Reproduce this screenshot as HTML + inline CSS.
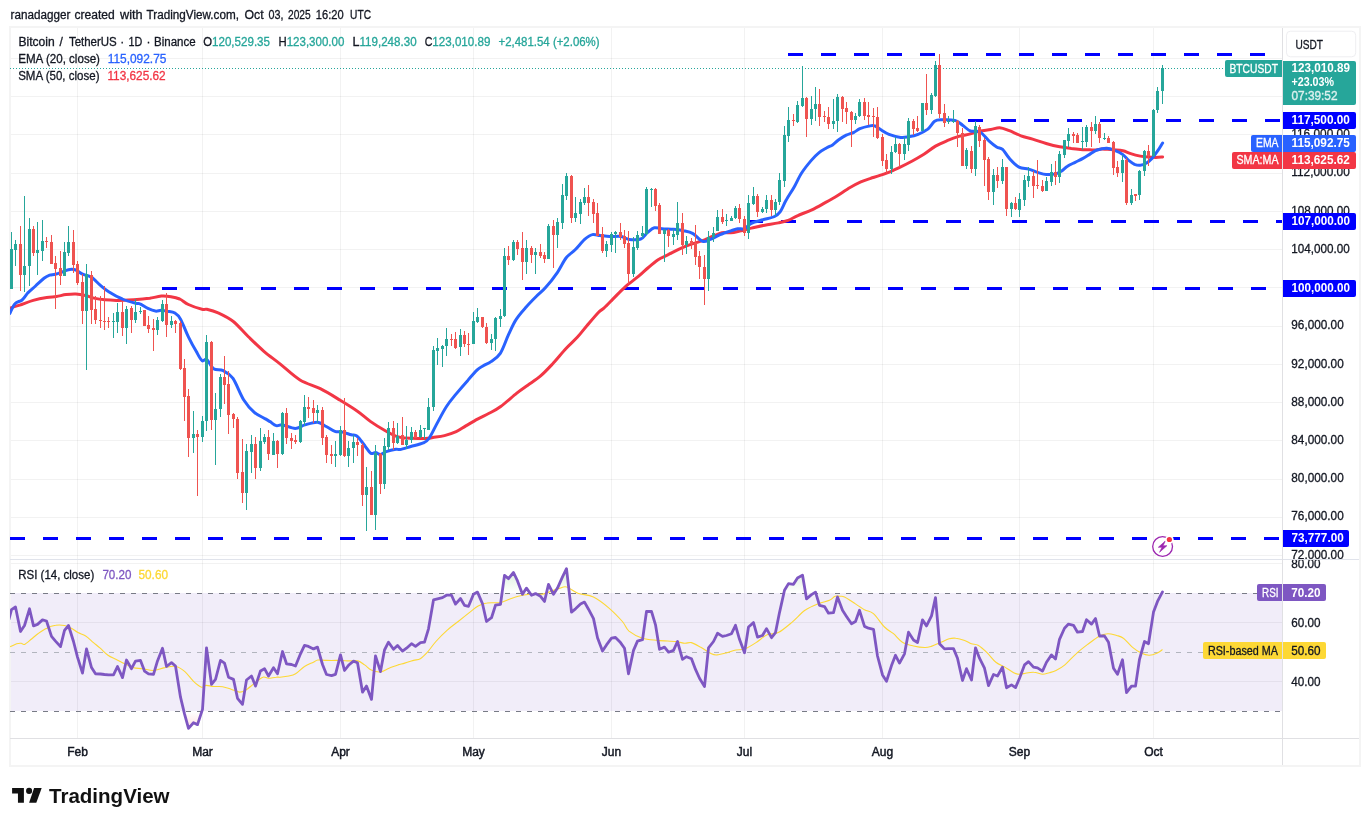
<!DOCTYPE html><html><head><meta charset="utf-8"><title>BTCUSDT chart</title>
<style>html,body{margin:0;padding:0;background:#fff}body{width:1370px;height:826px;overflow:hidden;position:relative}svg{position:absolute;left:0;top:0;display:block}text{font-family:"Liberation Sans",sans-serif;font-size:12px}</style></head><body>
<svg width="1370" height="826" viewBox="0 0 1370 826">
<defs><clipPath id="cm"><rect x="10" y="28" width="1272" height="531"/></clipPath><clipPath id="cr"><rect x="10" y="560" width="1272" height="178"/></clipPath>
<clipPath id="above70"><rect x="10" y="560" width="1272" height="33"/></clipPath><clipPath id="below30"><rect x="10" y="712" width="1272" height="26"/></clipPath>
<linearGradient id="gg" x1="0" y1="562" x2="0" y2="593" gradientUnits="userSpaceOnUse"><stop offset="0" stop-color="#4caf50" stop-opacity="0.28"/><stop offset="1" stop-color="#4caf50" stop-opacity="0"/></linearGradient>
<clipPath id="ax1"><rect x="1283" y="28" width="77" height="531"/></clipPath><clipPath id="ax2"><rect x="1283" y="560" width="77" height="178"/></clipPath></defs>
<linearGradient id="rg" x1="0" y1="712" x2="0" y2="738" gradientUnits="userSpaceOnUse"><stop offset="0" stop-color="#ff5252" stop-opacity="0"/><stop offset="1" stop-color="#ff5252" stop-opacity="0.28"/></linearGradient>
<g shape-rendering="crispEdges">
<rect x="10" y="593" width="1272" height="118" fill="#f1edf9"/>
<rect x="10" y="555" width="1272" height="1" fill="#000" fill-opacity="0.05"/>
<rect x="10" y="517" width="1272" height="1" fill="#000" fill-opacity="0.05"/>
<rect x="10" y="479" width="1272" height="1" fill="#000" fill-opacity="0.05"/>
<rect x="10" y="440" width="1272" height="1" fill="#000" fill-opacity="0.05"/>
<rect x="10" y="402" width="1272" height="1" fill="#000" fill-opacity="0.05"/>
<rect x="10" y="364" width="1272" height="1" fill="#000" fill-opacity="0.05"/>
<rect x="10" y="326" width="1272" height="1" fill="#000" fill-opacity="0.05"/>
<rect x="10" y="287" width="1272" height="1" fill="#000" fill-opacity="0.05"/>
<rect x="10" y="249" width="1272" height="1" fill="#000" fill-opacity="0.05"/>
<rect x="10" y="211" width="1272" height="1" fill="#000" fill-opacity="0.05"/>
<rect x="10" y="173" width="1272" height="1" fill="#000" fill-opacity="0.05"/>
<rect x="10" y="134" width="1272" height="1" fill="#000" fill-opacity="0.05"/>
<rect x="10" y="96" width="1272" height="1" fill="#000" fill-opacity="0.05"/>
<rect x="10" y="58" width="1272" height="1" fill="#000" fill-opacity="0.05"/>
<rect x="10" y="563" width="1272" height="1" fill="#000" fill-opacity="0.05"/>
<rect x="10" y="622" width="1272" height="1" fill="#000" fill-opacity="0.05"/>
<rect x="10" y="681" width="1272" height="1" fill="#000" fill-opacity="0.05"/>
<rect x="77" y="28" width="1" height="710" fill="#000" fill-opacity="0.05"/>
<rect x="202" y="28" width="1" height="710" fill="#000" fill-opacity="0.05"/>
<rect x="340" y="28" width="1" height="710" fill="#000" fill-opacity="0.05"/>
<rect x="473" y="28" width="1" height="710" fill="#000" fill-opacity="0.05"/>
<rect x="611" y="28" width="1" height="710" fill="#000" fill-opacity="0.05"/>
<rect x="744" y="28" width="1" height="710" fill="#000" fill-opacity="0.05"/>
<rect x="882" y="28" width="1" height="710" fill="#000" fill-opacity="0.05"/>
<rect x="1019" y="28" width="1" height="710" fill="#000" fill-opacity="0.05"/>
<rect x="1153" y="28" width="1" height="710" fill="#000" fill-opacity="0.05"/>
<rect x="9" y="26" width="1352" height="2" fill="#f4f4f4"/>
<rect x="9" y="765" width="1352" height="2" fill="#f4f4f4"/>
<rect x="9" y="26" width="2" height="741" fill="#f4f4f4"/>
<rect x="1359" y="26" width="2" height="741" fill="#f4f4f4"/>
<rect x="10" y="559" width="1349" height="1" fill="#e0e3eb"/>
<rect x="10" y="738" width="1349" height="1" fill="#e0e0e3"/>
<rect x="1282" y="28" width="1" height="737" fill="#e0e0e3"/>
</g>
<g shape-rendering="crispEdges" fill="#26a69a">
<path d="M10 68h1v1h-1zM13 68h1v1h-1zM16 68h1v1h-1zM19 68h1v1h-1zM22 68h1v1h-1zM25 68h1v1h-1zM28 68h1v1h-1zM31 68h1v1h-1zM34 68h1v1h-1zM37 68h1v1h-1zM40 68h1v1h-1zM43 68h1v1h-1zM46 68h1v1h-1zM49 68h1v1h-1zM52 68h1v1h-1zM55 68h1v1h-1zM58 68h1v1h-1zM61 68h1v1h-1zM64 68h1v1h-1zM67 68h1v1h-1zM70 68h1v1h-1zM73 68h1v1h-1zM76 68h1v1h-1zM79 68h1v1h-1zM82 68h1v1h-1zM85 68h1v1h-1zM88 68h1v1h-1zM91 68h1v1h-1zM94 68h1v1h-1zM97 68h1v1h-1zM100 68h1v1h-1zM103 68h1v1h-1zM106 68h1v1h-1zM109 68h1v1h-1zM112 68h1v1h-1zM115 68h1v1h-1zM118 68h1v1h-1zM121 68h1v1h-1zM124 68h1v1h-1zM127 68h1v1h-1zM130 68h1v1h-1zM133 68h1v1h-1zM136 68h1v1h-1zM139 68h1v1h-1zM142 68h1v1h-1zM145 68h1v1h-1zM148 68h1v1h-1zM151 68h1v1h-1zM154 68h1v1h-1zM157 68h1v1h-1zM160 68h1v1h-1zM163 68h1v1h-1zM166 68h1v1h-1zM169 68h1v1h-1zM172 68h1v1h-1zM175 68h1v1h-1zM178 68h1v1h-1zM181 68h1v1h-1zM184 68h1v1h-1zM187 68h1v1h-1zM190 68h1v1h-1zM193 68h1v1h-1zM196 68h1v1h-1zM199 68h1v1h-1zM202 68h1v1h-1zM205 68h1v1h-1zM208 68h1v1h-1zM211 68h1v1h-1zM214 68h1v1h-1zM217 68h1v1h-1zM220 68h1v1h-1zM223 68h1v1h-1zM226 68h1v1h-1zM229 68h1v1h-1zM232 68h1v1h-1zM235 68h1v1h-1zM238 68h1v1h-1zM241 68h1v1h-1zM244 68h1v1h-1zM247 68h1v1h-1zM250 68h1v1h-1zM253 68h1v1h-1zM256 68h1v1h-1zM259 68h1v1h-1zM262 68h1v1h-1zM265 68h1v1h-1zM268 68h1v1h-1zM271 68h1v1h-1zM274 68h1v1h-1zM277 68h1v1h-1zM280 68h1v1h-1zM283 68h1v1h-1zM286 68h1v1h-1zM289 68h1v1h-1zM292 68h1v1h-1zM295 68h1v1h-1zM298 68h1v1h-1zM301 68h1v1h-1zM304 68h1v1h-1zM307 68h1v1h-1zM310 68h1v1h-1zM313 68h1v1h-1zM316 68h1v1h-1zM319 68h1v1h-1zM322 68h1v1h-1zM325 68h1v1h-1zM328 68h1v1h-1zM331 68h1v1h-1zM334 68h1v1h-1zM337 68h1v1h-1zM340 68h1v1h-1zM343 68h1v1h-1zM346 68h1v1h-1zM349 68h1v1h-1zM352 68h1v1h-1zM355 68h1v1h-1zM358 68h1v1h-1zM361 68h1v1h-1zM364 68h1v1h-1zM367 68h1v1h-1zM370 68h1v1h-1zM373 68h1v1h-1zM376 68h1v1h-1zM379 68h1v1h-1zM382 68h1v1h-1zM385 68h1v1h-1zM388 68h1v1h-1zM391 68h1v1h-1zM394 68h1v1h-1zM397 68h1v1h-1zM400 68h1v1h-1zM403 68h1v1h-1zM406 68h1v1h-1zM409 68h1v1h-1zM412 68h1v1h-1zM415 68h1v1h-1zM418 68h1v1h-1zM421 68h1v1h-1zM424 68h1v1h-1zM427 68h1v1h-1zM430 68h1v1h-1zM433 68h1v1h-1zM436 68h1v1h-1zM439 68h1v1h-1zM442 68h1v1h-1zM445 68h1v1h-1zM448 68h1v1h-1zM451 68h1v1h-1zM454 68h1v1h-1zM457 68h1v1h-1zM460 68h1v1h-1zM463 68h1v1h-1zM466 68h1v1h-1zM469 68h1v1h-1zM472 68h1v1h-1zM475 68h1v1h-1zM478 68h1v1h-1zM481 68h1v1h-1zM484 68h1v1h-1zM487 68h1v1h-1zM490 68h1v1h-1zM493 68h1v1h-1zM496 68h1v1h-1zM499 68h1v1h-1zM502 68h1v1h-1zM505 68h1v1h-1zM508 68h1v1h-1zM511 68h1v1h-1zM514 68h1v1h-1zM517 68h1v1h-1zM520 68h1v1h-1zM523 68h1v1h-1zM526 68h1v1h-1zM529 68h1v1h-1zM532 68h1v1h-1zM535 68h1v1h-1zM538 68h1v1h-1zM541 68h1v1h-1zM544 68h1v1h-1zM547 68h1v1h-1zM550 68h1v1h-1zM553 68h1v1h-1zM556 68h1v1h-1zM559 68h1v1h-1zM562 68h1v1h-1zM565 68h1v1h-1zM568 68h1v1h-1zM571 68h1v1h-1zM574 68h1v1h-1zM577 68h1v1h-1zM580 68h1v1h-1zM583 68h1v1h-1zM586 68h1v1h-1zM589 68h1v1h-1zM592 68h1v1h-1zM595 68h1v1h-1zM598 68h1v1h-1zM601 68h1v1h-1zM604 68h1v1h-1zM607 68h1v1h-1zM610 68h1v1h-1zM613 68h1v1h-1zM616 68h1v1h-1zM619 68h1v1h-1zM622 68h1v1h-1zM625 68h1v1h-1zM628 68h1v1h-1zM631 68h1v1h-1zM634 68h1v1h-1zM637 68h1v1h-1zM640 68h1v1h-1zM643 68h1v1h-1zM646 68h1v1h-1zM649 68h1v1h-1zM652 68h1v1h-1zM655 68h1v1h-1zM658 68h1v1h-1zM661 68h1v1h-1zM664 68h1v1h-1zM667 68h1v1h-1zM670 68h1v1h-1zM673 68h1v1h-1zM676 68h1v1h-1zM679 68h1v1h-1zM682 68h1v1h-1zM685 68h1v1h-1zM688 68h1v1h-1zM691 68h1v1h-1zM694 68h1v1h-1zM697 68h1v1h-1zM700 68h1v1h-1zM703 68h1v1h-1zM706 68h1v1h-1zM709 68h1v1h-1zM712 68h1v1h-1zM715 68h1v1h-1zM718 68h1v1h-1zM721 68h1v1h-1zM724 68h1v1h-1zM727 68h1v1h-1zM730 68h1v1h-1zM733 68h1v1h-1zM736 68h1v1h-1zM739 68h1v1h-1zM742 68h1v1h-1zM745 68h1v1h-1zM748 68h1v1h-1zM751 68h1v1h-1zM754 68h1v1h-1zM757 68h1v1h-1zM760 68h1v1h-1zM763 68h1v1h-1zM766 68h1v1h-1zM769 68h1v1h-1zM772 68h1v1h-1zM775 68h1v1h-1zM778 68h1v1h-1zM781 68h1v1h-1zM784 68h1v1h-1zM787 68h1v1h-1zM790 68h1v1h-1zM793 68h1v1h-1zM796 68h1v1h-1zM799 68h1v1h-1zM802 68h1v1h-1zM805 68h1v1h-1zM808 68h1v1h-1zM811 68h1v1h-1zM814 68h1v1h-1zM817 68h1v1h-1zM820 68h1v1h-1zM823 68h1v1h-1zM826 68h1v1h-1zM829 68h1v1h-1zM832 68h1v1h-1zM835 68h1v1h-1zM838 68h1v1h-1zM841 68h1v1h-1zM844 68h1v1h-1zM847 68h1v1h-1zM850 68h1v1h-1zM853 68h1v1h-1zM856 68h1v1h-1zM859 68h1v1h-1zM862 68h1v1h-1zM865 68h1v1h-1zM868 68h1v1h-1zM871 68h1v1h-1zM874 68h1v1h-1zM877 68h1v1h-1zM880 68h1v1h-1zM883 68h1v1h-1zM886 68h1v1h-1zM889 68h1v1h-1zM892 68h1v1h-1zM895 68h1v1h-1zM898 68h1v1h-1zM901 68h1v1h-1zM904 68h1v1h-1zM907 68h1v1h-1zM910 68h1v1h-1zM913 68h1v1h-1zM916 68h1v1h-1zM919 68h1v1h-1zM922 68h1v1h-1zM925 68h1v1h-1zM928 68h1v1h-1zM931 68h1v1h-1zM934 68h1v1h-1zM937 68h1v1h-1zM940 68h1v1h-1zM943 68h1v1h-1zM946 68h1v1h-1zM949 68h1v1h-1zM952 68h1v1h-1zM955 68h1v1h-1zM958 68h1v1h-1zM961 68h1v1h-1zM964 68h1v1h-1zM967 68h1v1h-1zM970 68h1v1h-1zM973 68h1v1h-1zM976 68h1v1h-1zM979 68h1v1h-1zM982 68h1v1h-1zM985 68h1v1h-1zM988 68h1v1h-1zM991 68h1v1h-1zM994 68h1v1h-1zM997 68h1v1h-1zM1000 68h1v1h-1zM1003 68h1v1h-1zM1006 68h1v1h-1zM1009 68h1v1h-1zM1012 68h1v1h-1zM1015 68h1v1h-1zM1018 68h1v1h-1zM1021 68h1v1h-1zM1024 68h1v1h-1zM1027 68h1v1h-1zM1030 68h1v1h-1zM1033 68h1v1h-1zM1036 68h1v1h-1zM1039 68h1v1h-1zM1042 68h1v1h-1zM1045 68h1v1h-1zM1048 68h1v1h-1zM1051 68h1v1h-1zM1054 68h1v1h-1zM1057 68h1v1h-1zM1060 68h1v1h-1zM1063 68h1v1h-1zM1066 68h1v1h-1zM1069 68h1v1h-1zM1072 68h1v1h-1zM1075 68h1v1h-1zM1078 68h1v1h-1zM1081 68h1v1h-1zM1084 68h1v1h-1zM1087 68h1v1h-1zM1090 68h1v1h-1zM1093 68h1v1h-1zM1096 68h1v1h-1zM1099 68h1v1h-1zM1102 68h1v1h-1zM1105 68h1v1h-1zM1108 68h1v1h-1zM1111 68h1v1h-1zM1114 68h1v1h-1zM1117 68h1v1h-1zM1120 68h1v1h-1zM1123 68h1v1h-1zM1126 68h1v1h-1zM1129 68h1v1h-1zM1132 68h1v1h-1zM1135 68h1v1h-1zM1138 68h1v1h-1zM1141 68h1v1h-1zM1144 68h1v1h-1zM1147 68h1v1h-1zM1150 68h1v1h-1zM1153 68h1v1h-1zM1156 68h1v1h-1zM1159 68h1v1h-1zM1162 68h1v1h-1zM1165 68h1v1h-1zM1168 68h1v1h-1zM1171 68h1v1h-1zM1174 68h1v1h-1zM1177 68h1v1h-1zM1180 68h1v1h-1zM1183 68h1v1h-1zM1186 68h1v1h-1zM1189 68h1v1h-1zM1192 68h1v1h-1zM1195 68h1v1h-1zM1198 68h1v1h-1zM1201 68h1v1h-1zM1204 68h1v1h-1zM1207 68h1v1h-1zM1210 68h1v1h-1zM1213 68h1v1h-1zM1216 68h1v1h-1zM1219 68h1v1h-1zM1222 68h1v1h-1z"/>
</g>
<g shape-rendering="crispEdges" fill="#0000ff">
<path d="M788 53h15v3h-15zM821 53h15v3h-15zM854 53h15v3h-15zM887 53h15v3h-15zM920 53h15v3h-15zM953 53h15v3h-15zM986 53h15v3h-15zM1019 53h15v3h-15zM1052 53h15v3h-15zM1085 53h15v3h-15zM1118 53h15v3h-15zM1151 53h15v3h-15zM1184 53h15v3h-15zM1217 53h15v3h-15zM1250 53h15v3h-15z"/>
<path d="M968 119h15v3h-15zM1001 119h15v3h-15zM1034 119h15v3h-15zM1067 119h15v3h-15zM1100 119h15v3h-15zM1133 119h15v3h-15zM1166 119h15v3h-15zM1199 119h15v3h-15zM1232 119h15v3h-15zM1265 119h15v3h-15z"/>
<path d="M748 220h15v3h-15zM781 220h15v3h-15zM814 220h15v3h-15zM847 220h15v3h-15zM880 220h15v3h-15zM913 220h15v3h-15zM946 220h15v3h-15zM979 220h15v3h-15zM1012 220h15v3h-15zM1045 220h15v3h-15zM1078 220h15v3h-15zM1111 220h15v3h-15zM1144 220h15v3h-15zM1177 220h15v3h-15zM1210 220h15v3h-15zM1243 220h15v3h-15zM1276 220h6v3h-6z"/>
<path d="M162 287h15v3h-15zM195 287h15v3h-15zM228 287h15v3h-15zM261 287h15v3h-15zM294 287h15v3h-15zM327 287h15v3h-15zM360 287h15v3h-15zM393 287h15v3h-15zM426 287h15v3h-15zM459 287h15v3h-15zM492 287h15v3h-15zM525 287h15v3h-15zM558 287h15v3h-15zM591 287h15v3h-15zM624 287h15v3h-15zM657 287h15v3h-15zM690 287h15v3h-15zM723 287h15v3h-15zM756 287h15v3h-15zM789 287h15v3h-15zM822 287h15v3h-15zM855 287h15v3h-15zM888 287h15v3h-15zM921 287h15v3h-15zM954 287h15v3h-15zM987 287h15v3h-15zM1020 287h15v3h-15zM1053 287h15v3h-15zM1086 287h15v3h-15zM1119 287h15v3h-15zM1152 287h15v3h-15zM1185 287h15v3h-15zM1218 287h15v3h-15zM1251 287h15v3h-15z"/>
<path d="M10 537h15v3h-15zM43 537h15v3h-15zM76 537h15v3h-15zM109 537h15v3h-15zM142 537h15v3h-15zM175 537h15v3h-15zM208 537h15v3h-15zM241 537h15v3h-15zM274 537h15v3h-15zM307 537h15v3h-15zM340 537h15v3h-15zM373 537h15v3h-15zM406 537h15v3h-15zM439 537h15v3h-15zM472 537h15v3h-15zM505 537h15v3h-15zM538 537h15v3h-15zM571 537h15v3h-15zM604 537h15v3h-15zM637 537h15v3h-15zM670 537h15v3h-15zM703 537h15v3h-15zM736 537h15v3h-15zM769 537h15v3h-15zM802 537h15v3h-15zM835 537h15v3h-15zM868 537h15v3h-15zM901 537h15v3h-15zM934 537h15v3h-15zM967 537h15v3h-15zM1000 537h15v3h-15zM1033 537h15v3h-15zM1066 537h15v3h-15zM1099 537h15v3h-15zM1132 537h15v3h-15zM1165 537h15v3h-15zM1198 537h15v3h-15zM1231 537h15v3h-15zM1264 537h15v3h-15z"/>
</g>
<g clip-path="url(#cm)" fill="none" stroke-linejoin="round" stroke-linecap="round">
<path d="M9.9 308.1 C11.6 307.6 15.7 306.5 19.6 305.2 C23.5 303.9 28.7 301.7 33.2 300.4 C37.7 299.1 42.9 298.1 46.7 297.5 C50.6 296.8 53.2 297.0 56.4 296.5 C59.6 296.0 62.9 295.0 66.1 294.6 C69.3 294.2 72.5 293.8 75.8 294.0 C79.0 294.2 82.2 294.8 85.5 295.5 C88.7 296.3 91.9 297.7 95.1 298.4 C98.4 299.2 101.3 299.5 104.8 299.8 C108.4 300.1 112.6 300.3 116.4 300.4 C120.3 300.4 124.2 300.2 128.1 300.0 C132.0 299.8 136.2 299.5 139.8 299.2 C143.5 298.9 146.2 298.8 149.8 298.3 C153.4 297.7 157.8 296.4 161.3 296.1 C164.8 295.9 167.9 296.2 171.0 296.7 C174.0 297.2 176.8 297.8 179.7 299.0 C182.6 300.3 184.7 302.8 188.4 304.5 C192.1 306.2 198.9 308.5 202.0 309.3 C205.0 310.1 204.2 308.8 206.8 309.3 C209.4 309.9 213.1 310.6 217.5 312.6 C221.8 314.6 227.8 317.3 233.0 321.3 C238.1 325.4 243.3 331.8 248.4 336.8 C253.6 341.8 258.7 346.8 263.9 351.3 C269.2 355.9 274.0 359.1 280.0 363.9 C286.0 368.7 293.3 375.9 300.0 380.0 C306.7 384.1 313.6 385.3 320.3 388.7 C327.1 392.1 334.2 396.6 340.3 400.3 C346.4 404.0 352.1 407.4 357.1 411.0 C362.2 414.5 365.9 418.2 370.7 421.6 C375.5 425.0 382.0 428.9 386.2 431.3 C390.4 433.7 392.8 435.0 395.9 436.2 C399.0 437.3 399.8 437.7 404.7 438.1 C409.6 438.5 420.5 438.6 425.2 438.5 C429.9 438.4 429.7 438.0 432.9 437.5 C436.1 437.0 440.7 436.5 444.5 435.6 C448.4 434.6 452.6 433.3 456.2 431.7 C459.7 430.1 462.3 428.0 465.8 425.9 C469.4 423.8 473.6 421.2 477.5 419.1 C481.3 417.0 485.2 415.4 489.1 413.3 C493.0 411.2 496.1 409.9 500.7 406.5 C505.3 403.1 512.3 396.7 516.8 393.1 C521.3 389.6 523.9 388.0 527.8 385.2 C531.7 382.4 536.3 379.7 540.3 376.2 C544.4 372.7 548.0 368.8 552.3 364.2 C556.5 359.7 561.6 353.3 565.8 348.7 C570.0 344.2 573.9 341.0 577.5 337.1 C581.0 333.3 583.6 329.6 587.1 325.5 C590.6 321.4 595.6 315.4 598.4 312.5 C601.2 309.6 601.6 310.3 603.9 308.1 C606.3 306.0 609.1 303.0 612.6 299.4 C616.2 295.9 620.8 290.7 625.2 286.8 C629.5 283.0 634.9 279.4 638.7 276.2 C642.6 273.0 645.2 270.2 648.4 267.5 C651.6 264.7 654.9 261.8 658.1 259.7 C661.3 257.6 663.9 256.8 667.8 254.9 C671.6 253.0 677.1 250.0 681.3 248.1 C685.5 246.2 689.1 245.0 693.0 243.7 C696.8 242.3 701.3 241.0 704.6 239.8 C707.8 238.6 709.4 237.7 712.3 236.5 C715.2 235.3 718.9 233.2 722.0 232.6 C725.1 232.0 727.9 233.1 730.8 232.8 C733.8 232.5 736.3 231.8 739.7 231.0 C743.1 230.3 747.1 229.1 751.3 228.1 C755.5 227.2 760.3 226.1 764.9 225.2 C769.4 224.4 774.5 223.7 778.4 222.9 C782.3 222.1 784.9 221.6 788.1 220.4 C791.3 219.2 793.9 217.3 797.8 215.6 C801.6 213.8 807.1 212.1 811.3 210.1 C815.5 208.2 818.8 206.3 823.0 203.9 C827.1 201.6 832.0 198.9 836.5 196.2 C841.0 193.4 846.0 189.9 850.1 187.5 C854.1 185.1 857.4 183.3 860.8 181.8 C864.3 180.3 866.8 179.7 870.8 178.3 C874.9 177.0 880.5 175.4 885.2 173.6 C889.8 171.9 894.2 169.9 898.7 167.8 C903.2 165.7 908.1 163.3 912.3 161.0 C916.5 158.8 920.0 156.7 923.9 154.3 C927.8 151.8 931.6 148.4 935.5 146.1 C939.4 143.9 943.3 142.3 947.1 140.7 C951.0 139.1 954.9 137.6 958.8 136.4 C962.6 135.3 966.8 134.8 970.4 133.9 C973.9 133.0 976.7 131.7 980.1 131.0 C983.5 130.3 987.6 130.1 990.8 129.5 C994.1 129.0 996.6 127.6 999.7 127.8 C1002.8 128.0 1005.8 129.4 1009.4 130.7 C1012.9 132.1 1017.1 134.4 1021.0 135.8 C1024.9 137.2 1028.4 137.8 1032.6 139.1 C1036.8 140.4 1041.6 142.2 1046.2 143.5 C1050.7 144.8 1055.5 146.0 1059.7 146.8 C1063.9 147.6 1067.5 147.9 1071.3 148.4 C1075.2 148.8 1079.8 149.5 1083.0 149.7 C1086.1 149.9 1088.1 149.7 1090.0 149.7 C1091.9 149.8 1092.6 150.2 1094.6 150.1 C1096.5 150.0 1099.7 149.3 1101.6 149.1 C1103.6 149.0 1104.3 149.2 1106.2 149.3 C1108.1 149.4 1110.4 149.5 1113.2 149.7 C1116.0 150.0 1120.0 150.1 1122.9 150.7 C1125.8 151.3 1127.8 152.7 1130.7 153.6 C1133.6 154.5 1137.4 155.5 1140.3 156.1 C1143.3 156.7 1145.5 156.9 1148.1 157.1 C1150.7 157.3 1153.4 157.5 1155.8 157.5 C1158.3 157.4 1161.5 157.0 1162.6 156.9" stroke="#f23645" stroke-width="3"/>
<path d="M9.9 313.4 C10.8 311.7 12.9 305.9 15.0 303.7 C17.0 301.4 19.9 301.8 22.1 300.0 C24.3 298.2 25.9 295.0 28.1 292.6 C30.4 290.3 32.9 288.4 35.5 286.0 C38.1 283.7 41.7 280.1 44.0 278.3 C46.4 276.5 47.7 275.9 49.6 275.2 C51.5 274.5 53.0 274.9 55.4 274.2 C57.9 273.6 61.7 272.1 64.2 271.3 C66.6 270.5 68.0 269.6 70.0 269.4 C71.9 269.2 73.7 269.2 75.8 270.0 C77.9 270.8 80.0 273.0 82.6 274.2 C85.1 275.4 88.2 275.2 91.3 277.1 C94.3 279.1 98.0 283.4 101.0 285.9 C103.9 288.3 105.1 289.5 108.7 291.7 C112.2 293.9 117.7 297.1 122.3 299.0 C126.8 301.0 132.8 302.5 135.8 303.3 C138.8 304.1 138.0 303.0 140.0 303.9 C142.0 304.7 145.3 307.2 147.9 308.4 C150.5 309.6 153.3 310.7 155.5 311.1 C157.7 311.4 159.4 310.2 161.3 310.3 C163.2 310.3 164.9 310.8 167.1 311.2 C169.4 311.7 172.6 311.6 174.9 313.0 C177.1 314.3 178.4 315.4 180.7 319.4 C182.9 323.4 185.8 331.5 188.4 336.8 C191.0 342.1 193.9 347.4 196.2 351.3 C198.4 355.3 200.2 359.3 202.0 360.6 C203.7 362.0 204.9 358.1 206.8 359.5 C208.7 360.8 210.8 366.9 213.6 368.8 C216.3 370.6 220.0 369.1 223.3 370.7 C226.5 372.3 229.6 373.6 233.0 378.4 C236.3 383.3 240.1 394.1 243.6 399.7 C247.2 405.4 250.7 409.2 254.3 412.3 C257.8 415.4 262.3 417.0 264.9 418.6 C267.5 420.1 268.1 420.5 270.0 421.6 C271.9 422.8 274.1 425.1 276.2 425.6 C278.3 426.2 279.4 424.5 282.6 424.9 C285.8 425.4 291.5 428.4 295.2 428.4 C298.9 428.4 301.1 426.0 304.9 424.9 C308.6 423.9 313.9 422.0 317.4 422.2 C321.0 422.5 323.3 425.0 326.2 426.5 C329.1 428.0 332.3 430.4 334.9 431.3 C337.5 432.2 338.9 431.3 341.6 431.9 C344.4 432.5 348.8 434.1 351.3 434.8 C353.9 435.5 354.9 434.3 357.1 436.2 C359.4 438.0 362.6 443.0 364.9 445.8 C367.1 448.7 368.9 452.1 370.7 453.2 C372.5 454.3 373.9 452.4 375.5 452.6 C377.2 452.8 378.6 454.7 380.4 454.6 C382.2 454.4 383.6 452.5 386.2 451.6 C388.8 450.8 393.6 449.7 395.9 449.3 C398.2 449.0 397.5 450.0 400.0 449.5 C402.5 449.0 406.9 447.6 410.8 446.5 C414.7 445.4 420.2 444.3 423.2 442.9 C426.3 441.6 426.8 441.6 429.0 438.5 C431.3 435.3 433.9 429.3 436.8 423.9 C439.7 418.6 443.2 411.5 446.5 406.5 C449.7 401.5 452.6 398.3 456.2 393.9 C459.7 389.6 464.2 384.4 467.8 380.4 C471.3 376.3 474.9 372.1 477.5 369.7 C480.0 367.3 481.0 367.2 483.3 365.8 C485.5 364.5 488.2 363.7 491.0 361.6 C493.9 359.5 497.4 357.7 500.3 353.3 C503.2 348.8 505.8 340.5 508.4 334.9 C511.1 329.2 513.2 324.0 516.2 319.4 C519.1 314.7 522.8 310.8 526.2 307.0 C529.5 303.2 532.9 299.8 536.2 296.5 C539.4 293.2 542.3 291.4 545.8 287.3 C549.4 283.3 554.1 277.2 557.5 272.3 C560.8 267.4 563.3 261.5 566.2 257.8 C569.1 254.1 571.8 253.1 574.9 250.0 C578.0 247.0 581.7 242.0 584.6 239.4 C587.5 236.8 589.7 235.2 592.3 234.6 C594.9 233.9 597.1 235.2 600.0 235.5 C602.9 235.8 606.2 236.3 609.7 236.5 C613.3 236.7 618.1 236.0 621.3 236.5 C624.5 237.0 625.8 239.0 629.0 239.4 C632.3 239.8 637.6 240.1 640.7 239.0 C643.7 237.9 645.2 234.5 647.4 232.6 C649.7 230.7 651.8 228.4 654.2 227.8 C656.6 227.1 658.7 228.5 662.0 228.7 C665.2 229.0 670.0 229.0 673.6 229.3 C677.1 229.6 680.0 230.0 683.3 230.7 C686.5 231.4 689.7 231.8 693.0 233.6 C696.2 235.4 699.7 240.4 702.6 241.3 C705.5 242.3 707.5 240.5 710.4 239.4 C713.3 238.3 716.7 236.0 720.1 234.6 C723.5 233.1 727.9 231.8 730.8 230.9 C733.8 229.9 735.5 229.1 737.7 228.7 C740.0 228.4 742.3 229.6 744.5 228.7 C746.8 227.8 748.2 224.8 751.3 223.3 C754.4 221.8 759.0 220.9 762.9 219.8 C766.8 218.7 771.6 217.9 774.5 216.5 C777.4 215.2 778.4 214.4 780.3 211.7 C782.3 208.9 783.9 204.1 786.2 200.1 C788.4 196.0 791.3 192.0 793.9 187.5 C796.5 183.0 798.7 177.5 801.6 173.0 C804.6 168.4 808.4 163.8 811.3 160.4 C814.2 157.0 816.5 154.7 819.1 152.6 C821.7 150.5 824.6 149.1 826.8 147.8 C829.1 146.5 830.7 146.2 832.6 144.9 C834.6 143.6 836.2 141.6 838.4 140.0 C840.7 138.4 843.6 136.5 846.2 135.2 C848.8 133.9 851.7 133.4 853.9 132.3 C856.2 131.2 857.4 129.8 859.9 128.7 C862.4 127.7 866.4 126.6 868.9 126.1 C871.3 125.6 872.5 125.1 874.5 125.8 C876.6 126.4 878.9 128.6 881.3 130.0 C883.7 131.5 885.8 133.1 889.0 134.3 C892.3 135.5 897.4 137.0 900.7 137.4 C903.9 137.8 905.5 137.3 908.4 136.8 C911.3 136.3 914.9 135.6 918.1 134.3 C921.3 133.0 925.0 131.2 927.8 129.1 C930.5 126.9 932.3 122.9 934.6 121.3 C936.8 119.8 937.9 119.9 941.3 119.8 C944.7 119.6 951.3 119.5 954.9 120.4 C958.4 121.3 960.1 123.4 962.6 125.2 C965.2 127.0 967.5 129.9 970.4 131.0 C973.3 132.1 977.0 130.3 980.1 132.0 C983.1 133.6 986.1 138.4 988.9 140.8 C991.7 143.3 994.4 145.5 996.6 146.9 C998.9 148.4 1000.5 147.4 1002.6 149.3 C1004.7 151.2 1006.6 155.5 1009.4 158.4 C1012.1 161.4 1015.8 165.4 1019.0 167.1 C1022.3 168.9 1025.5 168.2 1028.7 169.1 C1032.0 170.0 1035.5 171.7 1038.4 172.6 C1041.3 173.5 1043.3 174.3 1046.2 174.5 C1049.1 174.7 1053.3 174.5 1055.8 173.9 C1058.4 173.3 1059.7 172.3 1061.6 171.0 C1063.6 169.7 1065.2 167.6 1067.5 166.2 C1069.7 164.7 1072.6 163.6 1075.2 162.3 C1077.8 161.0 1080.4 159.8 1083.0 158.4 C1085.5 157.0 1088.0 155.3 1090.3 153.9 C1092.7 152.5 1094.4 150.9 1097.1 150.0 C1099.9 149.1 1103.8 148.2 1106.8 148.3 C1109.8 148.4 1112.5 149.6 1115.2 150.7 C1117.9 151.7 1120.7 153.0 1122.9 154.6 C1125.2 156.2 1126.8 158.8 1128.7 160.4 C1130.7 162.0 1132.6 163.4 1134.5 164.3 C1136.5 165.1 1138.4 165.4 1140.3 165.2 C1142.3 165.1 1144.2 164.4 1146.2 163.3 C1148.1 162.2 1150.0 160.5 1152.0 158.4 C1153.9 156.3 1156.0 153.3 1157.8 150.7 C1159.6 148.1 1161.8 144.2 1162.6 143.0" stroke="#2962ff" stroke-width="3"/>
</g>
<g shape-rendering="crispEdges" clip-path="url(#cm)">
<path fill="#26a69a" d="M11 232h1v57h-1zM10 249h3v40h-3zM15 240h1v26h-1zM14 244h3v6h-3zM24 196h1v96h-1zM23 266h3v9h-3zM29 218h1v68h-1zM28 229h3v37h-3zM37 222h1v53h-1zM36 250h3v3h-3zM42 220h1v41h-1zM41 241h3v10h-3zM64 242h1v34h-1zM63 252h3v24h-3zM68 226h1v30h-1zM67 242h3v11h-3zM86 264h1v106h-1zM85 274h3v37h-3zM113 313h1v25h-1zM112 321h3v1h-3zM117 303h1v30h-1zM116 312h3v10h-3zM126 306h1v38h-1zM125 309h3v19h-3zM135 299h1v24h-1zM134 312h3v8h-3zM140 307h1v7h-1zM139 311h3v1h-3zM157 317h1v18h-1zM156 320h3v10h-3zM162 300h1v22h-1zM161 304h3v17h-3zM171 316h1v12h-1zM170 321h3v4h-3zM193 411h1v42h-1zM192 434h3v4h-3zM202 416h1v26h-1zM201 421h3v16h-3zM206 335h1v96h-1zM205 342h3v79h-3zM215 393h1v72h-1zM214 409h3v11h-3zM220 374h1v43h-1zM219 377h3v32h-3zM246 444h1v66h-1zM245 451h3v42h-3zM251 435h1v38h-1zM250 444h3v8h-3zM260 428h1v43h-1zM259 441h3v27h-3zM264 434h1v10h-1zM263 437h3v5h-3zM273 433h1v22h-1zM272 441h3v14h-3zM282 412h1v43h-1zM281 413h3v41h-3zM300 420h1v23h-1zM299 421h3v21h-3zM304 395h1v31h-1zM303 407h3v15h-3zM317 405h1v18h-1zM316 410h3v3h-3zM335 441h1v26h-1zM334 454h3v2h-3zM340 426h1v30h-1zM339 430h3v25h-3zM348 441h1v26h-1zM347 448h3v8h-3zM353 435h1v28h-1zM352 442h3v6h-3zM366 467h1v64h-1zM365 487h3v8h-3zM375 445h1v85h-1zM374 453h3v62h-3zM384 438h1v51h-1zM383 446h3v38h-3zM388 422h1v28h-1zM387 428h3v19h-3zM397 423h1v21h-1zM396 436h3v7h-3zM406 426h1v23h-1zM405 440h3v5h-3zM411 427h1v16h-1zM410 432h3v8h-3zM420 425h1v13h-1zM419 430h3v7h-3zM424 428h1v11h-1zM423 428h3v1h-3zM428 398h1v32h-1zM427 407h3v23h-3zM433 346h1v65h-1zM432 350h3v57h-3zM437 338h1v27h-1zM436 348h3v3h-3zM442 345h1v22h-1zM441 346h3v3h-3zM446 328h1v28h-1zM445 339h3v7h-3zM460 329h1v27h-1zM459 335h3v12h-3zM473 312h1v32h-1zM472 321h3v23h-3zM477 308h1v15h-1zM476 317h3v5h-3zM491 334h1v16h-1zM490 339h3v4h-3zM495 317h1v34h-1zM494 318h3v21h-3zM500 309h1v18h-1zM499 316h3v3h-3zM504 248h1v69h-1zM503 256h3v60h-3zM513 240h1v21h-1zM512 242h3v18h-3zM526 240h1v34h-1zM525 248h3v14h-3zM535 248h1v26h-1zM534 252h3v3h-3zM548 224h1v35h-1zM547 226h3v33h-3zM557 218h1v30h-1zM556 222h3v13h-3zM562 184h1v45h-1zM561 195h3v28h-3zM566 173h1v27h-1zM565 176h3v20h-3zM575 197h1v25h-1zM574 213h3v5h-3zM580 199h1v25h-1zM579 202h3v12h-3zM584 188h1v17h-1zM583 197h3v6h-3zM606 241h1v16h-1zM605 244h3v7h-3zM611 232h1v20h-1zM610 234h3v11h-3zM615 231h1v22h-1zM614 232h3v2h-3zM633 237h1v40h-1zM632 247h3v27h-3zM637 231h1v19h-1zM636 235h3v13h-3zM642 226h1v12h-1zM641 233h3v3h-3zM646 187h1v48h-1zM645 189h3v45h-3zM651 188h1v19h-1zM650 189h3v1h-3zM664 229h1v33h-1zM663 230h3v4h-3zM673 229h1v16h-1zM672 234h3v3h-3zM677 202h1v38h-1zM676 223h3v12h-3zM686 236h1v18h-1zM685 241h3v4h-3zM708 231h1v60h-1zM707 237h3v42h-3zM713 227h1v15h-1zM712 233h3v4h-3zM717 210h1v21h-1zM716 217h3v14h-3zM726 214h1v12h-1zM725 220h3v1h-3zM731 216h1v5h-1zM730 218h3v3h-3zM735 206h1v13h-1zM734 208h3v10h-3zM748 195h1v44h-1zM747 203h3v30h-3zM753 187h1v18h-1zM752 196h3v8h-3zM762 207h1v6h-1zM761 209h3v3h-3zM766 195h1v18h-1zM765 200h3v9h-3zM775 199h1v17h-1zM774 202h3v8h-3zM779 173h1v32h-1zM778 180h3v22h-3zM784 126h1v61h-1zM783 135h3v46h-3zM788 107h1v35h-1zM787 120h3v16h-3zM797 101h1v22h-1zM796 105h3v17h-3zM802 66h1v41h-1zM801 98h3v8h-3zM811 96h1v29h-1zM810 109h3v10h-3zM815 87h1v34h-1zM814 104h3v5h-3zM833 99h1v30h-1zM832 121h3v3h-3zM837 94h1v38h-1zM836 97h3v24h-3zM855 113h1v11h-1zM854 116h3v4h-3zM859 99h1v18h-1zM858 102h3v14h-3zM891 146h1v28h-1zM890 152h3v17h-3zM895 137h1v16h-1zM894 144h3v8h-3zM904 137h1v23h-1zM903 144h3v10h-3zM908 118h1v33h-1zM907 121h3v24h-3zM922 103h1v28h-1zM921 103h3v28h-3zM931 93h1v21h-1zM930 95h3v15h-3zM935 61h1v36h-1zM934 65h3v31h-3zM948 116h1v8h-1zM947 121h3v1h-3zM953 110h1v13h-1zM952 121h3v1h-3zM966 148h1v21h-1zM965 150h3v16h-3zM975 121h1v55h-1zM974 126h3v43h-3zM993 169h1v36h-1zM992 175h3v17h-3zM1002 159h1v25h-1zM1001 167h3v14h-3zM1011 202h1v15h-1zM1010 203h3v6h-3zM1019 193h1v24h-1zM1018 199h3v11h-3zM1024 175h1v31h-1zM1023 180h3v20h-3zM1028 167h1v20h-1zM1027 176h3v5h-3zM1046 177h1v14h-1zM1045 181h3v10h-3zM1051 164h1v22h-1zM1050 172h3v10h-3zM1059 151h1v32h-1zM1058 154h3v23h-3zM1064 140h1v18h-1zM1063 140h3v15h-3zM1068 128h1v19h-1zM1067 134h3v7h-3zM1082 127h1v23h-1zM1081 141h3v1h-3zM1086 125h1v22h-1zM1085 127h3v15h-3zM1095 116h1v18h-1zM1094 124h3v7h-3zM1104 133h1v7h-1zM1103 138h3v1h-3zM1122 155h1v27h-1zM1121 160h3v13h-3zM1131 189h1v16h-1zM1130 195h3v8h-3zM1139 170h1v30h-1zM1138 171h3v24h-3zM1144 150h1v26h-1zM1143 151h3v20h-3zM1153 109h1v48h-1zM1152 110h3v46h-3zM1157 87h1v26h-1zM1156 91h3v19h-3zM1162 65h1v39h-1zM1161 68h3v23h-3z"/>
<path fill="#ef5350" d="M20 226h1v65h-1zM19 244h3v31h-3zM33 226h1v30h-1zM32 229h3v24h-3zM46 237h1v11h-1zM45 241h3v1h-3zM51 235h1v29h-1zM50 242h3v22h-3zM55 256h1v53h-1zM54 263h3v6h-3zM60 251h1v34h-1zM59 268h3v8h-3zM73 230h1v43h-1zM72 242h3v23h-3zM77 261h1v24h-1zM76 264h3v19h-3zM82 274h1v50h-1zM81 282h3v29h-3zM91 271h1v53h-1zM90 275h3v35h-3zM95 296h1v28h-1zM94 309h3v11h-3zM100 296h1v32h-1zM99 320h3v1h-3zM104 286h1v44h-1zM103 321h3v1h-3zM108 317h1v11h-1zM107 321h3v1h-3zM122 301h1v35h-1zM121 312h3v16h-3zM131 306h1v27h-1zM130 308h3v12h-3zM144 310h1v16h-1zM143 310h3v16h-3zM148 316h1v17h-1zM147 325h3v4h-3zM153 319h1v32h-1zM152 328h3v2h-3zM166 293h1v44h-1zM165 304h3v21h-3zM175 320h1v13h-1zM174 321h3v3h-3zM180 321h1v49h-1zM179 323h3v46h-3zM184 359h1v62h-1zM183 368h3v29h-3zM188 389h1v68h-1zM187 396h3v42h-3zM197 430h1v66h-1zM196 434h3v3h-3zM211 341h1v89h-1zM210 342h3v78h-3zM224 356h1v48h-1zM223 377h3v8h-3zM228 371h1v63h-1zM227 384h3v31h-3zM233 413h1v15h-1zM232 414h3v5h-3zM237 417h1v62h-1zM236 419h3v54h-3zM242 439h1v64h-1zM241 472h3v21h-3zM255 437h1v42h-1zM254 444h3v24h-3zM268 430h1v30h-1zM267 437h3v17h-3zM277 440h1v28h-1zM276 441h3v13h-3zM286 408h1v36h-1zM285 413h3v25h-3zM291 433h1v16h-1zM290 438h3v3h-3zM295 435h1v9h-1zM294 440h3v2h-3zM308 397h1v21h-1zM307 407h3v2h-3zM313 400h1v23h-1zM312 408h3v5h-3zM322 407h1v38h-1zM321 410h3v28h-3zM326 435h1v28h-1zM325 437h3v18h-3zM331 445h1v19h-1zM330 454h3v2h-3zM344 398h1v59h-1zM343 430h3v26h-3zM357 438h1v18h-1zM356 442h3v3h-3zM362 443h1v63h-1zM361 445h3v50h-3zM371 471h1v44h-1zM370 487h3v28h-3zM380 453h1v41h-1zM379 454h3v30h-3zM393 421h1v29h-1zM392 428h3v15h-3zM402 417h1v28h-1zM401 435h3v10h-3zM415 430h1v8h-1zM414 432h3v6h-3zM451 334h1v12h-1zM450 339h3v1h-3zM455 332h1v17h-1zM454 339h3v9h-3zM464 331h1v16h-1zM463 335h3v9h-3zM468 333h1v22h-1zM467 344h3v1h-3zM482 317h1v11h-1zM481 317h3v10h-3zM486 323h1v21h-1zM485 327h3v16h-3zM508 246h1v19h-1zM507 256h3v4h-3zM517 240h1v15h-1zM516 242h3v7h-3zM522 232h1v48h-1zM521 248h3v14h-3zM531 246h1v17h-1zM530 248h3v7h-3zM540 244h1v14h-1zM539 252h3v4h-3zM544 252h1v11h-1zM543 255h3v4h-3zM553 220h1v48h-1zM552 226h3v9h-3zM571 175h1v48h-1zM570 176h3v42h-3zM588 185h1v31h-1zM587 197h3v6h-3zM593 199h1v24h-1zM592 202h3v12h-3zM597 203h1v33h-1zM596 213h3v23h-3zM602 227h1v26h-1zM601 234h3v17h-3zM620 223h1v17h-1zM619 232h3v5h-3zM624 230h1v18h-1zM623 236h3v8h-3zM628 231h1v53h-1zM627 243h3v31h-3zM655 188h1v23h-1zM654 189h3v17h-3zM659 203h1v31h-1zM658 205h3v29h-3zM668 229h1v18h-1zM667 230h3v6h-3zM682 213h1v42h-1zM681 223h3v22h-3zM691 238h1v11h-1zM690 241h3v3h-3zM695 225h1v40h-1zM694 243h3v14h-3zM699 251h1v28h-1zM698 256h3v11h-3zM704 255h1v50h-1zM703 267h3v12h-3zM722 209h1v15h-1zM721 217h3v5h-3zM739 204h1v19h-1zM738 208h3v11h-3zM744 216h1v20h-1zM743 219h3v14h-3zM757 194h1v23h-1zM756 196h3v16h-3zM771 195h1v21h-1zM770 200h3v10h-3zM793 114h1v12h-1zM792 120h3v1h-3zM806 97h1v40h-1zM805 98h3v21h-3zM819 89h1v37h-1zM818 104h3v13h-3zM824 111h1v11h-1zM823 116h3v1h-3zM828 107h1v22h-1zM827 117h3v7h-3zM842 96h1v26h-1zM841 97h3v12h-3zM846 102h1v22h-1zM845 108h3v4h-3zM851 111h1v36h-1zM850 112h3v8h-3zM864 98h1v22h-1zM863 102h3v14h-3zM868 102h1v23h-1zM867 115h3v2h-3zM873 108h1v29h-1zM872 116h3v1h-3zM877 107h1v32h-1zM876 117h3v21h-3zM882 134h1v32h-1zM881 137h3v24h-3zM886 154h1v19h-1zM885 160h3v9h-3zM899 143h1v24h-1zM898 144h3v10h-3zM913 119h1v16h-1zM912 121h3v8h-3zM917 116h1v16h-1zM916 128h3v3h-3zM926 74h1v41h-1zM925 103h3v7h-3zM939 54h1v64h-1zM938 65h3v49h-3zM944 104h1v23h-1zM943 113h3v10h-3zM957 120h1v27h-1zM956 121h3v12h-3zM962 128h1v38h-1zM961 133h3v33h-3zM971 146h1v27h-1zM970 151h3v18h-3zM979 125h1v22h-1zM978 127h3v14h-3zM984 138h1v48h-1zM983 140h3v20h-3zM988 157h1v43h-1zM987 159h3v33h-3zM997 167h1v21h-1zM996 175h3v6h-3zM1006 167h1v49h-1zM1005 167h3v42h-3zM1015 197h1v13h-1zM1014 203h3v6h-3zM1033 171h1v27h-1zM1032 176h3v10h-3zM1037 160h1v29h-1zM1036 185h3v1h-3zM1042 180h1v12h-1zM1041 186h3v5h-3zM1055 161h1v24h-1zM1054 172h3v5h-3zM1073 132h1v11h-1zM1072 134h3v2h-3zM1077 133h1v10h-1zM1076 135h3v8h-3zM1091 122h1v25h-1zM1090 127h3v4h-3zM1099 122h1v21h-1zM1098 124h3v14h-3zM1108 136h1v7h-1zM1107 138h3v5h-3zM1113 141h1v34h-1zM1112 142h3v26h-3zM1117 161h1v16h-1zM1116 167h3v6h-3zM1126 158h1v47h-1zM1125 160h3v43h-3zM1135 194h1v7h-1zM1134 194h3v2h-3zM1148 145h1v21h-1zM1147 151h3v5h-3z"/>
</g>
<path d="M9.0 593 L9.0 619.2 L11.5 609.7 L15.5 607.0 L20.5 631.5 L24.5 625.5 L29.5 608.8 L33.5 625.9 L37.5 624.4 L42.5 619.9 L46.5 621.0 L51.5 636.4 L55.5 641.1 L60.5 646.6 L64.5 630.4 L68.5 625.5 L73.5 641.5 L77.5 657.1 L82.5 673.1 L86.5 648.9 L91.5 667.6 L95.5 673.8 L100.5 674.0 L104.5 674.5 L108.5 674.9 L113.5 674.9 L117.5 666.5 L122.5 677.6 L126.5 660.0 L131.5 668.7 L135.5 661.1 L140.5 660.4 L144.5 671.1 L148.5 673.8 L153.5 674.3 L157.5 660.9 L162.5 648.2 L166.5 666.5 L171.5 662.7 L175.5 666.0 L180.5 697.2 L184.5 713.9 L188.5 728.4 L193.5 722.8 L197.5 724.6 L202.5 709.4 L206.5 647.8 L211.5 684.3 L215.5 679.4 L220.5 660.4 L224.5 663.1 L228.5 677.2 L233.5 679.4 L237.5 698.3 L242.5 704.3 L246.5 680.0 L251.5 676.0 L255.5 686.1 L260.5 670.9 L264.5 668.7 L268.5 676.0 L273.5 667.8 L277.5 673.8 L282.5 651.5 L286.5 663.8 L291.5 664.5 L295.5 666.0 L300.5 653.8 L304.5 645.3 L308.5 646.4 L313.5 648.9 L317.5 647.1 L322.5 664.5 L326.5 674.5 L331.5 675.6 L335.5 674.3 L340.5 654.9 L344.5 670.5 L348.5 665.3 L353.5 661.1 L357.5 662.7 L362.5 692.1 L366.5 686.1 L371.5 699.4 L375.5 656.0 L380.5 671.6 L384.5 650.0 L388.5 642.2 L393.5 649.3 L397.5 645.5 L402.5 651.1 L406.5 648.2 L411.5 643.7 L415.5 646.4 L420.5 642.6 L424.5 642.2 L428.5 628.8 L433.5 599.9 L437.5 598.8 L442.5 597.6 L446.5 595.2 L451.5 595.2 L455.5 604.1 L460.5 598.5 L464.5 605.4 L468.5 606.3 L473.5 594.3 L477.5 592.1 L482.5 603.7 L486.5 621.5 L491.5 617.7 L495.5 605.2 L500.5 604.3 L504.5 575.4 L508.5 578.7 L513.5 572.5 L517.5 580.9 L522.5 594.3 L526.5 588.1 L531.5 595.2 L535.5 593.6 L540.5 596.3 L544.5 601.4 L548.5 584.3 L553.5 594.3 L557.5 588.1 L562.5 576.9 L566.5 568.7 L571.5 612.1 L575.5 608.8 L580.5 604.1 L584.5 602.1 L588.5 609.2 L593.5 618.6 L597.5 637.7 L602.5 651.1 L606.5 644.9 L611.5 638.2 L615.5 637.5 L620.5 642.6 L624.5 648.2 L628.5 673.8 L633.5 650.4 L637.5 641.1 L642.5 639.7 L646.5 611.5 L651.5 611.5 L655.5 624.8 L659.5 649.3 L664.5 647.1 L668.5 652.2 L673.5 650.4 L677.5 641.5 L682.5 659.3 L686.5 656.7 L691.5 658.7 L695.5 669.4 L699.5 678.3 L704.5 686.5 L708.5 647.8 L713.5 641.5 L717.5 633.3 L722.5 636.4 L726.5 635.5 L731.5 633.7 L735.5 625.3 L739.5 639.3 L744.5 652.7 L748.5 627.0 L753.5 622.6 L757.5 637.1 L762.5 635.5 L766.5 628.6 L771.5 637.7 L775.5 632.6 L779.5 612.6 L784.5 590.3 L788.5 583.6 L793.5 584.3 L797.5 578.0 L802.5 575.1 L806.5 598.8 L811.5 594.7 L815.5 592.1 L819.5 605.4 L824.5 606.6 L828.5 613.2 L833.5 612.6 L837.5 597.0 L842.5 610.3 L846.5 616.4 L851.5 623.7 L855.5 621.5 L859.5 610.3 L864.5 626.4 L868.5 628.2 L873.5 629.3 L877.5 656.0 L882.5 674.9 L886.5 681.2 L891.5 665.6 L895.5 655.3 L899.5 663.1 L904.5 653.8 L908.5 632.2 L913.5 640.0 L917.5 642.6 L922.5 619.9 L926.5 625.9 L931.5 615.9 L935.5 597.6 L939.5 643.7 L944.5 648.9 L948.5 648.6 L953.5 648.6 L957.5 658.2 L962.5 680.5 L966.5 668.7 L971.5 680.0 L975.5 647.8 L979.5 658.2 L984.5 668.2 L988.5 685.6 L993.5 674.5 L997.5 676.0 L1002.5 667.1 L1006.5 687.8 L1011.5 684.9 L1015.5 687.6 L1019.5 678.3 L1024.5 664.9 L1028.5 661.6 L1033.5 667.1 L1037.5 667.8 L1042.5 671.1 L1046.5 662.2 L1051.5 654.9 L1055.5 658.9 L1059.5 639.3 L1064.5 628.2 L1068.5 624.1 L1073.5 625.3 L1077.5 632.2 L1082.5 631.5 L1086.5 619.7 L1091.5 624.1 L1095.5 618.6 L1099.5 636.0 L1104.5 636.0 L1108.5 642.2 L1113.5 668.2 L1117.5 674.3 L1122.5 659.8 L1126.5 692.7 L1131.5 686.1 L1135.5 686.1 L1139.5 659.3 L1144.5 641.5 L1148.5 643.7 L1153.5 612.1 L1157.5 601.4 L1162.5 591.9 L1162.5 593Z" fill="url(#gg)" clip-path="url(#above70)"/>
<path d="M9.0 712 L9.0 619.2 L11.5 609.7 L15.5 607.0 L20.5 631.5 L24.5 625.5 L29.5 608.8 L33.5 625.9 L37.5 624.4 L42.5 619.9 L46.5 621.0 L51.5 636.4 L55.5 641.1 L60.5 646.6 L64.5 630.4 L68.5 625.5 L73.5 641.5 L77.5 657.1 L82.5 673.1 L86.5 648.9 L91.5 667.6 L95.5 673.8 L100.5 674.0 L104.5 674.5 L108.5 674.9 L113.5 674.9 L117.5 666.5 L122.5 677.6 L126.5 660.0 L131.5 668.7 L135.5 661.1 L140.5 660.4 L144.5 671.1 L148.5 673.8 L153.5 674.3 L157.5 660.9 L162.5 648.2 L166.5 666.5 L171.5 662.7 L175.5 666.0 L180.5 697.2 L184.5 713.9 L188.5 728.4 L193.5 722.8 L197.5 724.6 L202.5 709.4 L206.5 647.8 L211.5 684.3 L215.5 679.4 L220.5 660.4 L224.5 663.1 L228.5 677.2 L233.5 679.4 L237.5 698.3 L242.5 704.3 L246.5 680.0 L251.5 676.0 L255.5 686.1 L260.5 670.9 L264.5 668.7 L268.5 676.0 L273.5 667.8 L277.5 673.8 L282.5 651.5 L286.5 663.8 L291.5 664.5 L295.5 666.0 L300.5 653.8 L304.5 645.3 L308.5 646.4 L313.5 648.9 L317.5 647.1 L322.5 664.5 L326.5 674.5 L331.5 675.6 L335.5 674.3 L340.5 654.9 L344.5 670.5 L348.5 665.3 L353.5 661.1 L357.5 662.7 L362.5 692.1 L366.5 686.1 L371.5 699.4 L375.5 656.0 L380.5 671.6 L384.5 650.0 L388.5 642.2 L393.5 649.3 L397.5 645.5 L402.5 651.1 L406.5 648.2 L411.5 643.7 L415.5 646.4 L420.5 642.6 L424.5 642.2 L428.5 628.8 L433.5 599.9 L437.5 598.8 L442.5 597.6 L446.5 595.2 L451.5 595.2 L455.5 604.1 L460.5 598.5 L464.5 605.4 L468.5 606.3 L473.5 594.3 L477.5 592.1 L482.5 603.7 L486.5 621.5 L491.5 617.7 L495.5 605.2 L500.5 604.3 L504.5 575.4 L508.5 578.7 L513.5 572.5 L517.5 580.9 L522.5 594.3 L526.5 588.1 L531.5 595.2 L535.5 593.6 L540.5 596.3 L544.5 601.4 L548.5 584.3 L553.5 594.3 L557.5 588.1 L562.5 576.9 L566.5 568.7 L571.5 612.1 L575.5 608.8 L580.5 604.1 L584.5 602.1 L588.5 609.2 L593.5 618.6 L597.5 637.7 L602.5 651.1 L606.5 644.9 L611.5 638.2 L615.5 637.5 L620.5 642.6 L624.5 648.2 L628.5 673.8 L633.5 650.4 L637.5 641.1 L642.5 639.7 L646.5 611.5 L651.5 611.5 L655.5 624.8 L659.5 649.3 L664.5 647.1 L668.5 652.2 L673.5 650.4 L677.5 641.5 L682.5 659.3 L686.5 656.7 L691.5 658.7 L695.5 669.4 L699.5 678.3 L704.5 686.5 L708.5 647.8 L713.5 641.5 L717.5 633.3 L722.5 636.4 L726.5 635.5 L731.5 633.7 L735.5 625.3 L739.5 639.3 L744.5 652.7 L748.5 627.0 L753.5 622.6 L757.5 637.1 L762.5 635.5 L766.5 628.6 L771.5 637.7 L775.5 632.6 L779.5 612.6 L784.5 590.3 L788.5 583.6 L793.5 584.3 L797.5 578.0 L802.5 575.1 L806.5 598.8 L811.5 594.7 L815.5 592.1 L819.5 605.4 L824.5 606.6 L828.5 613.2 L833.5 612.6 L837.5 597.0 L842.5 610.3 L846.5 616.4 L851.5 623.7 L855.5 621.5 L859.5 610.3 L864.5 626.4 L868.5 628.2 L873.5 629.3 L877.5 656.0 L882.5 674.9 L886.5 681.2 L891.5 665.6 L895.5 655.3 L899.5 663.1 L904.5 653.8 L908.5 632.2 L913.5 640.0 L917.5 642.6 L922.5 619.9 L926.5 625.9 L931.5 615.9 L935.5 597.6 L939.5 643.7 L944.5 648.9 L948.5 648.6 L953.5 648.6 L957.5 658.2 L962.5 680.5 L966.5 668.7 L971.5 680.0 L975.5 647.8 L979.5 658.2 L984.5 668.2 L988.5 685.6 L993.5 674.5 L997.5 676.0 L1002.5 667.1 L1006.5 687.8 L1011.5 684.9 L1015.5 687.6 L1019.5 678.3 L1024.5 664.9 L1028.5 661.6 L1033.5 667.1 L1037.5 667.8 L1042.5 671.1 L1046.5 662.2 L1051.5 654.9 L1055.5 658.9 L1059.5 639.3 L1064.5 628.2 L1068.5 624.1 L1073.5 625.3 L1077.5 632.2 L1082.5 631.5 L1086.5 619.7 L1091.5 624.1 L1095.5 618.6 L1099.5 636.0 L1104.5 636.0 L1108.5 642.2 L1113.5 668.2 L1117.5 674.3 L1122.5 659.8 L1126.5 692.7 L1131.5 686.1 L1135.5 686.1 L1139.5 659.3 L1144.5 641.5 L1148.5 643.7 L1153.5 612.1 L1157.5 601.4 L1162.5 591.9 L1162.5 712Z" fill="url(#rg)" clip-path="url(#below30)"/>
<g shape-rendering="crispEdges">
<path d="M10 593h5v1h-5zM21 593h5v1h-5zM32 593h5v1h-5zM43 593h5v1h-5zM54 593h5v1h-5zM65 593h5v1h-5zM76 593h5v1h-5zM87 593h5v1h-5zM98 593h5v1h-5zM109 593h5v1h-5zM120 593h5v1h-5zM131 593h5v1h-5zM142 593h5v1h-5zM153 593h5v1h-5zM164 593h5v1h-5zM175 593h5v1h-5zM186 593h5v1h-5zM197 593h5v1h-5zM208 593h5v1h-5zM219 593h5v1h-5zM230 593h5v1h-5zM241 593h5v1h-5zM252 593h5v1h-5zM263 593h5v1h-5zM274 593h5v1h-5zM285 593h5v1h-5zM296 593h5v1h-5zM307 593h5v1h-5zM318 593h5v1h-5zM329 593h5v1h-5zM340 593h5v1h-5zM351 593h5v1h-5zM362 593h5v1h-5zM373 593h5v1h-5zM384 593h5v1h-5zM395 593h5v1h-5zM406 593h5v1h-5zM417 593h5v1h-5zM428 593h5v1h-5zM439 593h5v1h-5zM450 593h5v1h-5zM461 593h5v1h-5zM472 593h5v1h-5zM483 593h5v1h-5zM494 593h5v1h-5zM505 593h5v1h-5zM516 593h5v1h-5zM527 593h5v1h-5zM538 593h5v1h-5zM549 593h5v1h-5zM560 593h5v1h-5zM571 593h5v1h-5zM582 593h5v1h-5zM593 593h5v1h-5zM604 593h5v1h-5zM615 593h5v1h-5zM626 593h5v1h-5zM637 593h5v1h-5zM648 593h5v1h-5zM659 593h5v1h-5zM670 593h5v1h-5zM681 593h5v1h-5zM692 593h5v1h-5zM703 593h5v1h-5zM714 593h5v1h-5zM725 593h5v1h-5zM736 593h5v1h-5zM747 593h5v1h-5zM758 593h5v1h-5zM769 593h5v1h-5zM780 593h5v1h-5zM791 593h5v1h-5zM802 593h5v1h-5zM813 593h5v1h-5zM824 593h5v1h-5zM835 593h5v1h-5zM846 593h5v1h-5zM857 593h5v1h-5zM868 593h5v1h-5zM879 593h5v1h-5zM890 593h5v1h-5zM901 593h5v1h-5zM912 593h5v1h-5zM923 593h5v1h-5zM934 593h5v1h-5zM945 593h5v1h-5zM956 593h5v1h-5zM967 593h5v1h-5zM978 593h5v1h-5zM989 593h5v1h-5zM1000 593h5v1h-5zM1011 593h5v1h-5zM1022 593h5v1h-5zM1033 593h5v1h-5zM1044 593h5v1h-5zM1055 593h5v1h-5zM1066 593h5v1h-5zM1077 593h5v1h-5zM1088 593h5v1h-5zM1099 593h5v1h-5zM1110 593h5v1h-5zM1121 593h5v1h-5zM1132 593h5v1h-5zM1143 593h5v1h-5zM1154 593h5v1h-5zM1165 593h5v1h-5zM1176 593h5v1h-5zM1187 593h5v1h-5zM1198 593h5v1h-5zM1209 593h5v1h-5zM1220 593h5v1h-5zM1231 593h5v1h-5zM1242 593h5v1h-5zM1253 593h5v1h-5zM1264 593h5v1h-5zM1275 593h5v1h-5z" fill="#787b86"/>
<path d="M10 652h5v1h-5zM21 652h5v1h-5zM32 652h5v1h-5zM43 652h5v1h-5zM54 652h5v1h-5zM65 652h5v1h-5zM76 652h5v1h-5zM87 652h5v1h-5zM98 652h5v1h-5zM109 652h5v1h-5zM120 652h5v1h-5zM131 652h5v1h-5zM142 652h5v1h-5zM153 652h5v1h-5zM164 652h5v1h-5zM175 652h5v1h-5zM186 652h5v1h-5zM197 652h5v1h-5zM208 652h5v1h-5zM219 652h5v1h-5zM230 652h5v1h-5zM241 652h5v1h-5zM252 652h5v1h-5zM263 652h5v1h-5zM274 652h5v1h-5zM285 652h5v1h-5zM296 652h5v1h-5zM307 652h5v1h-5zM318 652h5v1h-5zM329 652h5v1h-5zM340 652h5v1h-5zM351 652h5v1h-5zM362 652h5v1h-5zM373 652h5v1h-5zM384 652h5v1h-5zM395 652h5v1h-5zM406 652h5v1h-5zM417 652h5v1h-5zM428 652h5v1h-5zM439 652h5v1h-5zM450 652h5v1h-5zM461 652h5v1h-5zM472 652h5v1h-5zM483 652h5v1h-5zM494 652h5v1h-5zM505 652h5v1h-5zM516 652h5v1h-5zM527 652h5v1h-5zM538 652h5v1h-5zM549 652h5v1h-5zM560 652h5v1h-5zM571 652h5v1h-5zM582 652h5v1h-5zM593 652h5v1h-5zM604 652h5v1h-5zM615 652h5v1h-5zM626 652h5v1h-5zM637 652h5v1h-5zM648 652h5v1h-5zM659 652h5v1h-5zM670 652h5v1h-5zM681 652h5v1h-5zM692 652h5v1h-5zM703 652h5v1h-5zM714 652h5v1h-5zM725 652h5v1h-5zM736 652h5v1h-5zM747 652h5v1h-5zM758 652h5v1h-5zM769 652h5v1h-5zM780 652h5v1h-5zM791 652h5v1h-5zM802 652h5v1h-5zM813 652h5v1h-5zM824 652h5v1h-5zM835 652h5v1h-5zM846 652h5v1h-5zM857 652h5v1h-5zM868 652h5v1h-5zM879 652h5v1h-5zM890 652h5v1h-5zM901 652h5v1h-5zM912 652h5v1h-5zM923 652h5v1h-5zM934 652h5v1h-5zM945 652h5v1h-5zM956 652h5v1h-5zM967 652h5v1h-5zM978 652h5v1h-5zM989 652h5v1h-5zM1000 652h5v1h-5zM1011 652h5v1h-5zM1022 652h5v1h-5zM1033 652h5v1h-5zM1044 652h5v1h-5zM1055 652h5v1h-5zM1066 652h5v1h-5zM1077 652h5v1h-5zM1088 652h5v1h-5zM1099 652h5v1h-5zM1110 652h5v1h-5zM1121 652h5v1h-5zM1132 652h5v1h-5zM1143 652h5v1h-5zM1154 652h5v1h-5zM1165 652h5v1h-5zM1176 652h5v1h-5zM1187 652h5v1h-5zM1198 652h5v1h-5zM1209 652h5v1h-5zM1220 652h5v1h-5zM1231 652h5v1h-5zM1242 652h5v1h-5zM1253 652h5v1h-5zM1264 652h5v1h-5zM1275 652h5v1h-5z" fill="#b2b5be"/>
<path d="M10 711h5v1h-5zM21 711h5v1h-5zM32 711h5v1h-5zM43 711h5v1h-5zM54 711h5v1h-5zM65 711h5v1h-5zM76 711h5v1h-5zM87 711h5v1h-5zM98 711h5v1h-5zM109 711h5v1h-5zM120 711h5v1h-5zM131 711h5v1h-5zM142 711h5v1h-5zM153 711h5v1h-5zM164 711h5v1h-5zM175 711h5v1h-5zM186 711h5v1h-5zM197 711h5v1h-5zM208 711h5v1h-5zM219 711h5v1h-5zM230 711h5v1h-5zM241 711h5v1h-5zM252 711h5v1h-5zM263 711h5v1h-5zM274 711h5v1h-5zM285 711h5v1h-5zM296 711h5v1h-5zM307 711h5v1h-5zM318 711h5v1h-5zM329 711h5v1h-5zM340 711h5v1h-5zM351 711h5v1h-5zM362 711h5v1h-5zM373 711h5v1h-5zM384 711h5v1h-5zM395 711h5v1h-5zM406 711h5v1h-5zM417 711h5v1h-5zM428 711h5v1h-5zM439 711h5v1h-5zM450 711h5v1h-5zM461 711h5v1h-5zM472 711h5v1h-5zM483 711h5v1h-5zM494 711h5v1h-5zM505 711h5v1h-5zM516 711h5v1h-5zM527 711h5v1h-5zM538 711h5v1h-5zM549 711h5v1h-5zM560 711h5v1h-5zM571 711h5v1h-5zM582 711h5v1h-5zM593 711h5v1h-5zM604 711h5v1h-5zM615 711h5v1h-5zM626 711h5v1h-5zM637 711h5v1h-5zM648 711h5v1h-5zM659 711h5v1h-5zM670 711h5v1h-5zM681 711h5v1h-5zM692 711h5v1h-5zM703 711h5v1h-5zM714 711h5v1h-5zM725 711h5v1h-5zM736 711h5v1h-5zM747 711h5v1h-5zM758 711h5v1h-5zM769 711h5v1h-5zM780 711h5v1h-5zM791 711h5v1h-5zM802 711h5v1h-5zM813 711h5v1h-5zM824 711h5v1h-5zM835 711h5v1h-5zM846 711h5v1h-5zM857 711h5v1h-5zM868 711h5v1h-5zM879 711h5v1h-5zM890 711h5v1h-5zM901 711h5v1h-5zM912 711h5v1h-5zM923 711h5v1h-5zM934 711h5v1h-5zM945 711h5v1h-5zM956 711h5v1h-5zM967 711h5v1h-5zM978 711h5v1h-5zM989 711h5v1h-5zM1000 711h5v1h-5zM1011 711h5v1h-5zM1022 711h5v1h-5zM1033 711h5v1h-5zM1044 711h5v1h-5zM1055 711h5v1h-5zM1066 711h5v1h-5zM1077 711h5v1h-5zM1088 711h5v1h-5zM1099 711h5v1h-5zM1110 711h5v1h-5zM1121 711h5v1h-5zM1132 711h5v1h-5zM1143 711h5v1h-5zM1154 711h5v1h-5zM1165 711h5v1h-5zM1176 711h5v1h-5zM1187 711h5v1h-5zM1198 711h5v1h-5zM1209 711h5v1h-5zM1220 711h5v1h-5zM1231 711h5v1h-5zM1242 711h5v1h-5zM1253 711h5v1h-5zM1264 711h5v1h-5zM1275 711h5v1h-5z" fill="#787b86"/>
</g>
<g clip-path="url(#cr)" fill="none" stroke-linejoin="round" stroke-linecap="round">
<path d="M10.5 646.6 C11.5 646.2 14.9 644.3 16.7 643.7 C18.5 643.2 19.9 643.2 21.2 643.3 C22.5 643.4 22.8 645.1 24.5 644.4 C26.2 643.7 29.0 641.1 31.2 639.3 C33.4 637.5 35.3 635.6 37.9 633.7 C40.5 631.9 43.8 629.6 46.8 628.2 C49.7 626.7 52.7 625.7 55.7 625.3 C58.6 624.8 62.0 625.0 64.6 625.5 C67.2 626.0 69.0 627.0 71.3 628.2 C73.5 629.3 75.5 631.3 78.0 632.6 C80.4 633.9 83.1 634.3 85.7 636.0 C88.3 637.6 91.1 640.6 93.5 642.6 C96.0 644.7 97.8 646.1 100.2 648.2 C102.6 650.3 105.4 653.5 108.0 655.3 C110.6 657.2 113.0 657.9 115.8 659.3 C118.6 660.7 121.8 662.4 124.7 663.8 C127.7 665.2 130.7 667.0 133.6 667.8 C136.6 668.6 139.2 668.2 142.5 668.7 C145.9 669.1 150.0 670.7 153.7 670.5 C157.4 670.3 161.1 668.2 164.8 667.6 C168.5 666.9 172.6 665.8 175.9 666.5 C179.3 667.1 181.9 669.1 184.9 671.6 C187.8 674.1 191.0 679.0 193.8 681.6 C196.5 684.2 199.5 686.5 201.6 687.2 C203.6 687.8 204.0 685.5 206.0 685.4 C208.1 685.3 211.0 686.3 213.8 686.5 C216.6 686.7 219.7 686.2 222.7 686.7 C225.7 687.2 228.8 688.5 231.6 689.4 C234.4 690.3 237.2 691.9 239.4 692.1 C241.6 692.3 242.6 691.9 245.0 690.5 C247.4 689.1 250.9 686.1 253.9 683.8 C256.9 681.6 260.4 678.1 262.8 677.2 C265.2 676.2 266.1 678.3 268.4 678.3 C270.6 678.3 274.2 677.3 276.2 677.2 C278.1 677.0 277.9 677.3 280.0 677.2 C282.1 677.0 286.3 676.6 288.9 676.0 C291.5 675.5 293.0 675.4 295.6 673.8 C298.2 672.2 301.5 668.4 304.5 666.5 C307.5 664.5 311.2 663.3 313.4 662.2 C315.6 661.2 315.6 660.3 317.9 660.0 C320.1 659.7 323.1 660.4 326.8 660.4 C330.5 660.5 336.4 660.4 340.1 660.4 C343.8 660.5 346.1 660.8 349.0 660.9 C352.0 661.0 355.4 660.2 358.0 660.9 C360.5 661.6 362.4 663.4 364.6 664.9 C366.9 666.4 368.7 668.8 371.3 670.0 C373.9 671.2 377.3 672.3 380.2 672.0 C383.2 671.7 386.2 669.4 389.1 668.2 C392.1 667.1 395.4 665.8 398.0 664.9 C400.6 664.1 402.1 663.9 404.7 663.1 C407.3 662.4 411.0 661.2 413.6 660.4 C416.2 659.7 418.1 660.0 420.3 658.7 C422.5 657.4 424.4 655.5 427.0 652.7 C429.6 649.8 432.6 645.2 435.9 641.5 C439.2 637.8 443.3 633.7 447.0 630.4 C450.7 627.0 454.5 624.4 458.2 621.5 C461.9 618.5 466.0 615.2 469.3 612.6 C472.7 610.0 475.2 607.5 478.2 605.9 C481.2 604.3 483.4 603.5 487.1 603.0 C490.8 602.4 496.8 603.2 500.5 602.5 C504.2 601.9 506.4 600.2 509.4 599.2 C512.4 598.2 515.0 597.1 518.3 596.3 C521.6 595.5 525.4 594.7 529.4 594.3 C533.5 593.9 539.1 594.6 542.8 594.1 C546.5 593.5 548.8 592.0 551.7 591.0 C554.6 590.0 557.5 588.7 560.0 588.1 C562.5 587.4 563.7 586.1 566.7 587.0 C569.7 587.8 573.4 591.5 577.8 593.2 C582.3 594.9 588.2 594.5 593.4 597.0 C598.6 599.5 604.2 604.0 609.0 608.1 C613.8 612.2 619.0 617.7 622.4 621.5 C625.7 625.3 625.7 628.3 629.0 631.1 C632.4 633.8 637.6 636.6 642.4 638.2 C647.2 639.7 652.4 639.8 658.0 640.4 C663.6 641.0 671.4 641.0 675.8 641.5 C680.3 642.0 682.1 643.1 684.7 643.3 C687.3 643.5 688.8 642.0 691.4 642.6 C694.0 643.3 697.0 645.2 700.3 647.1 C703.7 648.9 708.7 652.5 711.4 653.8 C714.2 655.1 714.4 655.1 717.0 654.9 C719.6 654.7 723.9 653.5 727.0 652.7 C730.2 651.8 733.0 650.6 735.9 650.0 C738.9 649.4 741.5 650.1 744.9 648.9 C748.2 647.6 752.3 645.0 756.0 642.6 C759.7 640.3 763.4 636.5 767.1 634.8 C770.8 633.2 774.2 634.7 778.3 632.6 C782.3 630.6 787.2 626.3 791.6 622.6 C796.1 618.9 800.5 613.5 805.0 610.3 C809.4 607.2 814.3 605.3 818.4 603.7 C822.4 602.0 826.7 601.5 829.5 600.3 C832.3 599.1 833.3 597.0 835.1 596.3 C836.8 595.6 838.4 596.2 840.0 596.3 C841.6 596.4 842.2 595.9 844.5 597.0 C846.7 598.0 850.0 600.4 853.4 602.5 C856.7 604.7 861.2 607.8 864.5 609.7 C867.8 611.5 870.1 610.8 873.4 613.7 C876.7 616.6 881.2 623.7 884.5 627.0 C887.9 630.4 890.5 631.2 893.5 633.7 C896.4 636.2 899.0 640.1 902.4 642.2 C905.7 644.2 909.8 645.1 913.5 646.0 C917.2 646.9 921.7 647.5 924.6 647.5 C927.6 647.6 928.7 647.2 931.3 646.4 C933.9 645.6 937.3 643.9 940.2 642.6 C943.2 641.4 946.5 639.6 949.1 638.8 C951.7 638.1 953.2 637.9 955.8 638.2 C958.4 638.4 962.1 639.5 964.7 640.4 C967.3 641.3 969.2 642.9 971.4 643.7 C973.6 644.6 975.5 643.8 978.1 645.3 C980.7 646.8 984.0 649.8 987.0 652.7 C990.0 655.5 992.9 659.8 995.9 662.2 C998.9 664.6 1001.8 665.4 1004.8 667.1 C1007.8 668.9 1011.3 671.5 1013.7 672.7 C1016.1 673.9 1017.4 674.1 1019.3 674.3 C1021.1 674.4 1022.4 673.7 1024.9 673.4 C1027.3 673.0 1030.8 672.1 1033.8 672.3 C1036.7 672.4 1040.1 674.2 1042.7 674.3 C1045.3 674.3 1047.1 673.3 1049.4 672.7 C1051.6 672.1 1053.4 671.8 1056.0 670.5 C1058.6 669.2 1061.6 667.7 1064.9 664.9 C1068.3 662.1 1072.1 657.3 1076.1 653.8 C1080.0 650.2 1084.8 646.6 1088.6 643.7 C1092.4 640.9 1095.7 638.1 1098.9 636.4 C1102.1 634.7 1104.8 633.9 1107.8 633.7 C1110.8 633.6 1114.1 634.8 1116.7 635.5 C1119.3 636.2 1120.8 636.2 1123.4 638.2 C1126.0 640.1 1129.3 644.6 1132.3 647.1 C1135.3 649.6 1138.4 651.7 1141.2 653.1 C1144.0 654.5 1146.4 655.3 1149.0 655.3 C1151.6 655.4 1154.6 654.3 1156.8 653.3 C1159.0 652.4 1161.3 650.4 1162.2 649.8" stroke="#fdd835" stroke-width="1.1"/>
<path d="M9.0 619.2 L11.5 609.7 L15.5 607.0 L20.5 631.5 L24.5 625.5 L29.5 608.8 L33.5 625.9 L37.5 624.4 L42.5 619.9 L46.5 621.0 L51.5 636.4 L55.5 641.1 L60.5 646.6 L64.5 630.4 L68.5 625.5 L73.5 641.5 L77.5 657.1 L82.5 673.1 L86.5 648.9 L91.5 667.6 L95.5 673.8 L100.5 674.0 L104.5 674.5 L108.5 674.9 L113.5 674.9 L117.5 666.5 L122.5 677.6 L126.5 660.0 L131.5 668.7 L135.5 661.1 L140.5 660.4 L144.5 671.1 L148.5 673.8 L153.5 674.3 L157.5 660.9 L162.5 648.2 L166.5 666.5 L171.5 662.7 L175.5 666.0 L180.5 697.2 L184.5 713.9 L188.5 728.4 L193.5 722.8 L197.5 724.6 L202.5 709.4 L206.5 647.8 L211.5 684.3 L215.5 679.4 L220.5 660.4 L224.5 663.1 L228.5 677.2 L233.5 679.4 L237.5 698.3 L242.5 704.3 L246.5 680.0 L251.5 676.0 L255.5 686.1 L260.5 670.9 L264.5 668.7 L268.5 676.0 L273.5 667.8 L277.5 673.8 L282.5 651.5 L286.5 663.8 L291.5 664.5 L295.5 666.0 L300.5 653.8 L304.5 645.3 L308.5 646.4 L313.5 648.9 L317.5 647.1 L322.5 664.5 L326.5 674.5 L331.5 675.6 L335.5 674.3 L340.5 654.9 L344.5 670.5 L348.5 665.3 L353.5 661.1 L357.5 662.7 L362.5 692.1 L366.5 686.1 L371.5 699.4 L375.5 656.0 L380.5 671.6 L384.5 650.0 L388.5 642.2 L393.5 649.3 L397.5 645.5 L402.5 651.1 L406.5 648.2 L411.5 643.7 L415.5 646.4 L420.5 642.6 L424.5 642.2 L428.5 628.8 L433.5 599.9 L437.5 598.8 L442.5 597.6 L446.5 595.2 L451.5 595.2 L455.5 604.1 L460.5 598.5 L464.5 605.4 L468.5 606.3 L473.5 594.3 L477.5 592.1 L482.5 603.7 L486.5 621.5 L491.5 617.7 L495.5 605.2 L500.5 604.3 L504.5 575.4 L508.5 578.7 L513.5 572.5 L517.5 580.9 L522.5 594.3 L526.5 588.1 L531.5 595.2 L535.5 593.6 L540.5 596.3 L544.5 601.4 L548.5 584.3 L553.5 594.3 L557.5 588.1 L562.5 576.9 L566.5 568.7 L571.5 612.1 L575.5 608.8 L580.5 604.1 L584.5 602.1 L588.5 609.2 L593.5 618.6 L597.5 637.7 L602.5 651.1 L606.5 644.9 L611.5 638.2 L615.5 637.5 L620.5 642.6 L624.5 648.2 L628.5 673.8 L633.5 650.4 L637.5 641.1 L642.5 639.7 L646.5 611.5 L651.5 611.5 L655.5 624.8 L659.5 649.3 L664.5 647.1 L668.5 652.2 L673.5 650.4 L677.5 641.5 L682.5 659.3 L686.5 656.7 L691.5 658.7 L695.5 669.4 L699.5 678.3 L704.5 686.5 L708.5 647.8 L713.5 641.5 L717.5 633.3 L722.5 636.4 L726.5 635.5 L731.5 633.7 L735.5 625.3 L739.5 639.3 L744.5 652.7 L748.5 627.0 L753.5 622.6 L757.5 637.1 L762.5 635.5 L766.5 628.6 L771.5 637.7 L775.5 632.6 L779.5 612.6 L784.5 590.3 L788.5 583.6 L793.5 584.3 L797.5 578.0 L802.5 575.1 L806.5 598.8 L811.5 594.7 L815.5 592.1 L819.5 605.4 L824.5 606.6 L828.5 613.2 L833.5 612.6 L837.5 597.0 L842.5 610.3 L846.5 616.4 L851.5 623.7 L855.5 621.5 L859.5 610.3 L864.5 626.4 L868.5 628.2 L873.5 629.3 L877.5 656.0 L882.5 674.9 L886.5 681.2 L891.5 665.6 L895.5 655.3 L899.5 663.1 L904.5 653.8 L908.5 632.2 L913.5 640.0 L917.5 642.6 L922.5 619.9 L926.5 625.9 L931.5 615.9 L935.5 597.6 L939.5 643.7 L944.5 648.9 L948.5 648.6 L953.5 648.6 L957.5 658.2 L962.5 680.5 L966.5 668.7 L971.5 680.0 L975.5 647.8 L979.5 658.2 L984.5 668.2 L988.5 685.6 L993.5 674.5 L997.5 676.0 L1002.5 667.1 L1006.5 687.8 L1011.5 684.9 L1015.5 687.6 L1019.5 678.3 L1024.5 664.9 L1028.5 661.6 L1033.5 667.1 L1037.5 667.8 L1042.5 671.1 L1046.5 662.2 L1051.5 654.9 L1055.5 658.9 L1059.5 639.3 L1064.5 628.2 L1068.5 624.1 L1073.5 625.3 L1077.5 632.2 L1082.5 631.5 L1086.5 619.7 L1091.5 624.1 L1095.5 618.6 L1099.5 636.0 L1104.5 636.0 L1108.5 642.2 L1113.5 668.2 L1117.5 674.3 L1122.5 659.8 L1126.5 692.7 L1131.5 686.1 L1135.5 686.1 L1139.5 659.3 L1144.5 641.5 L1148.5 643.7 L1153.5 612.1 L1157.5 601.4 L1162.5 591.9" stroke="#7e57c2" stroke-width="2.8"/>
</g>
<text x="1291.3" y="558.7" clip-path="url(#ax1)" textLength="52.4" lengthAdjust="spacingAndGlyphs" fill="#131722" stroke="#131722" stroke-width="0.3">72,000.00</text>
<text x="1291.3" y="520.4" clip-path="url(#ax1)" textLength="52.4" lengthAdjust="spacingAndGlyphs" fill="#131722" stroke="#131722" stroke-width="0.3">76,000.00</text>
<text x="1291.3" y="482.2" clip-path="url(#ax1)" textLength="52.4" lengthAdjust="spacingAndGlyphs" fill="#131722" stroke="#131722" stroke-width="0.3">80,000.00</text>
<text x="1291.3" y="444.0" clip-path="url(#ax1)" textLength="52.4" lengthAdjust="spacingAndGlyphs" fill="#131722" stroke="#131722" stroke-width="0.3">84,000.00</text>
<text x="1291.3" y="405.7" clip-path="url(#ax1)" textLength="52.4" lengthAdjust="spacingAndGlyphs" fill="#131722" stroke="#131722" stroke-width="0.3">88,000.00</text>
<text x="1291.3" y="367.5" clip-path="url(#ax1)" textLength="52.4" lengthAdjust="spacingAndGlyphs" fill="#131722" stroke="#131722" stroke-width="0.3">92,000.00</text>
<text x="1291.3" y="329.2" clip-path="url(#ax1)" textLength="52.4" lengthAdjust="spacingAndGlyphs" fill="#131722" stroke="#131722" stroke-width="0.3">96,000.00</text>
<text x="1291.3" y="291.0" clip-path="url(#ax1)" textLength="58.5" lengthAdjust="spacingAndGlyphs" fill="#131722" stroke="#131722" stroke-width="0.3">100,000.00</text>
<text x="1291.3" y="252.8" clip-path="url(#ax1)" textLength="58.5" lengthAdjust="spacingAndGlyphs" fill="#131722" stroke="#131722" stroke-width="0.3">104,000.00</text>
<text x="1291.3" y="214.5" clip-path="url(#ax1)" textLength="58.5" lengthAdjust="spacingAndGlyphs" fill="#131722" stroke="#131722" stroke-width="0.3">108,000.00</text>
<text x="1291.3" y="176.3" clip-path="url(#ax1)" textLength="58.5" lengthAdjust="spacingAndGlyphs" fill="#131722" stroke="#131722" stroke-width="0.3">112,000.00</text>
<text x="1291.3" y="138.0" clip-path="url(#ax1)" textLength="58.5" lengthAdjust="spacingAndGlyphs" fill="#131722" stroke="#131722" stroke-width="0.3">116,000.00</text>
<text x="1291.2" y="567.8" clip-path="url(#ax2)" textLength="29.3" lengthAdjust="spacingAndGlyphs" fill="#131722" stroke="#131722" stroke-width="0.3">80.00</text>
<text x="1291.2" y="626.8" clip-path="url(#ax2)" textLength="29.3" lengthAdjust="spacingAndGlyphs" fill="#131722" stroke="#131722" stroke-width="0.3">60.00</text>
<text x="1291.2" y="685.8" clip-path="url(#ax2)" textLength="29.3" lengthAdjust="spacingAndGlyphs" fill="#131722" stroke="#131722" stroke-width="0.3">40.00</text>
<rect x="1286.5" y="31.2" width="69.2" height="25.6" rx="4" fill="#fff" stroke="#eeeef1"/>
<text x="1295.4" y="48.6" textLength="27.5" lengthAdjust="spacingAndGlyphs" fill="#131722" stroke="#131722" stroke-width="0.3">USDT</text>
<path d="M1283 61 H1354 Q1356 61 1356 63 V103 Q1356 105 1354 105 H1283 V61Z" fill="#26a69a"/>
<text x="1291.5" y="71.7" fill="#fff" font-weight="bold" textLength="58.4" lengthAdjust="spacingAndGlyphs">123,010.89</text>
<text x="1291.5" y="85.7" fill="#fff" font-weight="bold" textLength="42.5" lengthAdjust="spacingAndGlyphs">+23.03%</text>
<text x="1291.5" y="99.8" fill="#ffffff" fill-opacity="0.75" stroke="#ffffff" stroke-opacity="0.75" stroke-width="0.4" textLength="46" lengthAdjust="spacingAndGlyphs">07:39:52</text>
<path d="M1227 60 H1282 V77 H1227 Q1225 77 1225 75 V62 Q1225 60 1227 60Z" fill="#26a69a"/>
<text x="1229.5" y="72.9" fill="#fff" textLength="48.4" lengthAdjust="spacingAndGlyphs" stroke="#fff" stroke-width="0.3">BTCUSDT</text>
<path d="M1283 112 H1354 Q1356 112 1356 114 V127 Q1356 129 1354 129 H1283 V112Z" fill="#0000ff"/>
<text x="1291.5" y="124.3" fill="#fff" font-weight="bold" textLength="58.4" lengthAdjust="spacingAndGlyphs">117,500.00</text>
<path d="M1283 213 H1354 Q1356 213 1356 215 V228 Q1356 230 1354 230 H1283 V213Z" fill="#0000ff"/>
<text x="1291.5" y="225.3" fill="#fff" font-weight="bold" textLength="58.4" lengthAdjust="spacingAndGlyphs">107,000.00</text>
<path d="M1283 280 H1354 Q1356 280 1356 282 V295 Q1356 297 1354 297 H1283 V280Z" fill="#0000ff"/>
<text x="1291.5" y="292.3" fill="#fff" font-weight="bold" textLength="58.4" lengthAdjust="spacingAndGlyphs">100,000.00</text>
<path d="M1283 530 H1347 Q1349 530 1349 532 V545 Q1349 547 1347 547 H1283 V530Z" fill="#0000ff"/>
<text x="1291.5" y="542.3" fill="#fff" font-weight="bold" textLength="52.2" lengthAdjust="spacingAndGlyphs">73,777.00</text>
<path d="M1283 135 H1354 Q1356 135 1356 137 V150 Q1356 152 1354 152 H1283 V135Z" fill="#2962ff"/>
<text x="1291.5" y="147.4" fill="#fff" font-weight="bold" textLength="58.4" lengthAdjust="spacingAndGlyphs">115,092.75</text>
<path d="M1253 135 H1282 V152 H1253 Q1251 152 1251 150 V137 Q1251 135 1253 135Z" fill="#2962ff"/>
<text x="1256" y="147.4" fill="#fff" textLength="22.5" lengthAdjust="spacingAndGlyphs" stroke="#fff" stroke-width="0.3">EMA</text>
<path d="M1283 152 H1354 Q1356 152 1356 154 V167 Q1356 169 1354 169 H1283 V152Z" fill="#f23645"/>
<text x="1291.5" y="164.4" fill="#fff" font-weight="bold" textLength="58.4" lengthAdjust="spacingAndGlyphs">113,625.62</text>
<path d="M1234 152 H1282 V169 H1234 Q1232 169 1232 167 V154 Q1232 152 1234 152Z" fill="#f23645"/>
<text x="1236.5" y="164.4" fill="#fff" textLength="42" lengthAdjust="spacingAndGlyphs" stroke="#fff" stroke-width="0.3">SMA:MA</text>
<path d="M1283 584 H1324 Q1326 584 1326 586 V599 Q1326 601 1324 601 H1283 V584Z" fill="#7e57c2"/>
<text x="1291.2" y="597.0" fill="#fff" font-weight="bold" textLength="29.3" lengthAdjust="spacingAndGlyphs">70.20</text>
<path d="M1259 584 H1282 V601 H1259 Q1257 601 1257 599 V586 Q1257 584 1259 584Z" fill="#7e57c2"/>
<text x="1262" y="597.0" fill="#fff" textLength="16.5" lengthAdjust="spacingAndGlyphs" stroke="#fff" stroke-width="0.3">RSI</text>
<path d="M1283 642 H1324 Q1326 642 1326 644 V657 Q1326 659 1324 659 H1283 V642Z" fill="#fdd835"/>
<text x="1291.2" y="655.0" textLength="29.3" lengthAdjust="spacingAndGlyphs" fill="#131722" stroke="#131722" stroke-width="0.3">50.60</text>
<path d="M1205 642 H1282 V659 H1205 Q1203 659 1203 657 V644 Q1203 642 1205 642Z" fill="#fdd835"/>
<text x="1207.9" y="655.0" textLength="70" lengthAdjust="spacingAndGlyphs" fill="#131722" stroke="#131722" stroke-width="0.3">RSI-based MA</text>
<text x="77.5" y="756" text-anchor="middle" stroke="#131722" stroke-width="0.45" fill="#131722">Feb</text>
<text x="202.5" y="756" text-anchor="middle" stroke="#131722" stroke-width="0.45" fill="#131722">Mar</text>
<text x="340.5" y="756" text-anchor="middle" stroke="#131722" stroke-width="0.45" fill="#131722">Apr</text>
<text x="473.5" y="756" text-anchor="middle" stroke="#131722" stroke-width="0.45" fill="#131722">May</text>
<text x="611.5" y="756" text-anchor="middle" stroke="#131722" stroke-width="0.45" fill="#131722">Jun</text>
<text x="744.5" y="756" text-anchor="middle" stroke="#131722" stroke-width="0.45" fill="#131722">Jul</text>
<text x="882.5" y="756" text-anchor="middle" stroke="#131722" stroke-width="0.45" fill="#131722">Aug</text>
<text x="1019.5" y="756" text-anchor="middle" stroke="#131722" stroke-width="0.45" fill="#131722">Sep</text>
<text x="1153.5" y="756" text-anchor="middle" stroke="#131722" stroke-width="0.45" fill="#131722">Oct</text>
<text y="19" fill="#131722" stroke="#131722" stroke-width="0.3" ><tspan x="10.6" textLength="59.8" lengthAdjust="spacingAndGlyphs">ranadagger</tspan> <tspan x="74.5" textLength="40.3" lengthAdjust="spacingAndGlyphs">created</tspan> <tspan x="120.0" textLength="22.6" lengthAdjust="spacingAndGlyphs">with</tspan> <tspan x="146.6" textLength="92.4" lengthAdjust="spacingAndGlyphs">TradingView.com,</tspan> <tspan x="244.5" textLength="19.1" lengthAdjust="spacingAndGlyphs">Oct</tspan> <tspan x="268.5" textLength="15.0" lengthAdjust="spacingAndGlyphs">03,</tspan> <tspan x="288.0" textLength="22.7" lengthAdjust="spacingAndGlyphs">2025</tspan> <tspan x="315.8" textLength="27.8" lengthAdjust="spacingAndGlyphs">16:20</tspan> <tspan x="350.1" textLength="20.9" lengthAdjust="spacingAndGlyphs">UTC</tspan></text>
<text y="45.9" fill="#131722" stroke="#131722" stroke-width="0.3" ><tspan x="18.4" textLength="36.3" lengthAdjust="spacingAndGlyphs">Bitcoin</tspan> <tspan x="59.6">/</tspan> <tspan x="68.9" textLength="47.9" lengthAdjust="spacingAndGlyphs">TetherUS</tspan> <tspan x="120.3">·</tspan> <tspan x="128.5" textLength="13.8" lengthAdjust="spacingAndGlyphs">1D</tspan> <tspan x="146.6">·</tspan> <tspan x="154.0" textLength="41.6" lengthAdjust="spacingAndGlyphs">Binance</tspan></text>
<text x="203.2" y="45.9"  textLength="8.8" lengthAdjust="spacingAndGlyphs" fill="#131722" stroke="#131722" stroke-width="0.3">O</text>
<text x="212" y="45.9" fill="#26a69a" textLength="58.0" lengthAdjust="spacingAndGlyphs" stroke="#26a69a" stroke-width="0.3">120,529.35</text>
<text x="278.5" y="45.9"  textLength="8.2" lengthAdjust="spacingAndGlyphs" fill="#131722" stroke="#131722" stroke-width="0.3">H</text>
<text x="286.7" y="45.9" fill="#26a69a" textLength="57.7" lengthAdjust="spacingAndGlyphs" stroke="#26a69a" stroke-width="0.3">123,300.00</text>
<text x="352.6" y="45.9"  textLength="7.0" lengthAdjust="spacingAndGlyphs" fill="#131722" stroke="#131722" stroke-width="0.3">L</text>
<text x="359.5" y="45.9" fill="#26a69a" textLength="57.1" lengthAdjust="spacingAndGlyphs" stroke="#26a69a" stroke-width="0.3">119,248.30</text>
<text x="424.8" y="45.9"  textLength="7.7" lengthAdjust="spacingAndGlyphs" fill="#131722" stroke="#131722" stroke-width="0.3">C</text>
<text x="432.3" y="45.9" fill="#26a69a" textLength="58.1" lengthAdjust="spacingAndGlyphs" stroke="#26a69a" stroke-width="0.3">123,010.89</text>
<text x="498.5" y="45.9" fill="#26a69a" textLength="101.1" lengthAdjust="spacingAndGlyphs" stroke="#26a69a" stroke-width="0.3">+2,481.54 (+2.06%)</text>
<text x="18.2" y="62.9"  textLength="81.8" lengthAdjust="spacingAndGlyphs" fill="#131722" stroke="#131722" stroke-width="0.3">EMA (20, close)</text>
<text x="107.7" y="62.9" fill="#2962ff" textLength="58.7" lengthAdjust="spacingAndGlyphs" stroke="#2962ff" stroke-width="0.3">115,092.75</text>
<text x="18.2" y="80.0"  textLength="81.3" lengthAdjust="spacingAndGlyphs" fill="#131722" stroke="#131722" stroke-width="0.3">SMA (50, close)</text>
<text x="107.4" y="80.0" fill="#f23645" textLength="58.3" lengthAdjust="spacingAndGlyphs" stroke="#f23645" stroke-width="0.3">113,625.62</text>
<text x="18.3" y="579"  textLength="75.9" lengthAdjust="spacingAndGlyphs" fill="#131722" stroke="#131722" stroke-width="0.3">RSI (14, close)</text>
<text x="102.4" y="579" fill="#7e57c2" textLength="29.0" lengthAdjust="spacingAndGlyphs" stroke="#7e57c2" stroke-width="0.3">70.20</text>
<text x="138.5" y="579" fill="#fdd835" textLength="29.5" lengthAdjust="spacingAndGlyphs" stroke="#fdd835" stroke-width="0.3">50.60</text>
<g><circle cx="1162.6" cy="546.5" r="11" fill="#fff"/><circle cx="1162.6" cy="546.5" r="9.9" fill="none" stroke="#9c27b0" stroke-width="1.3"/>
<path d="M1165.3 541.0 L1158.3 547.3 L1162.0 547.3 L1159.5 552.3 L1166.9 545.7 L1163.1 545.7 Z" fill="#9c27b0" stroke="#9c27b0" stroke-width="0.6" stroke-linejoin="round"/>
<circle cx="1169.4" cy="539.5" r="4.3" fill="#fff"/><circle cx="1169.4" cy="539.5" r="2.6" fill="#f23645"/></g>
<g fill="#111"><path d="M12.1 788 H23.9 V802.8 H17.95 V793.6 H12.1Z"/><circle cx="29.1" cy="790.9" r="3.05"/><path d="M34.1 788 H41.7 L36.3 802.8 H29.1Z"/></g>
<text x="49" y="802.6" font-weight="bold" textLength="120.6" lengthAdjust="spacingAndGlyphs" style="font-size:20px" fill="#111">TradingView</text>
</svg></body></html>
